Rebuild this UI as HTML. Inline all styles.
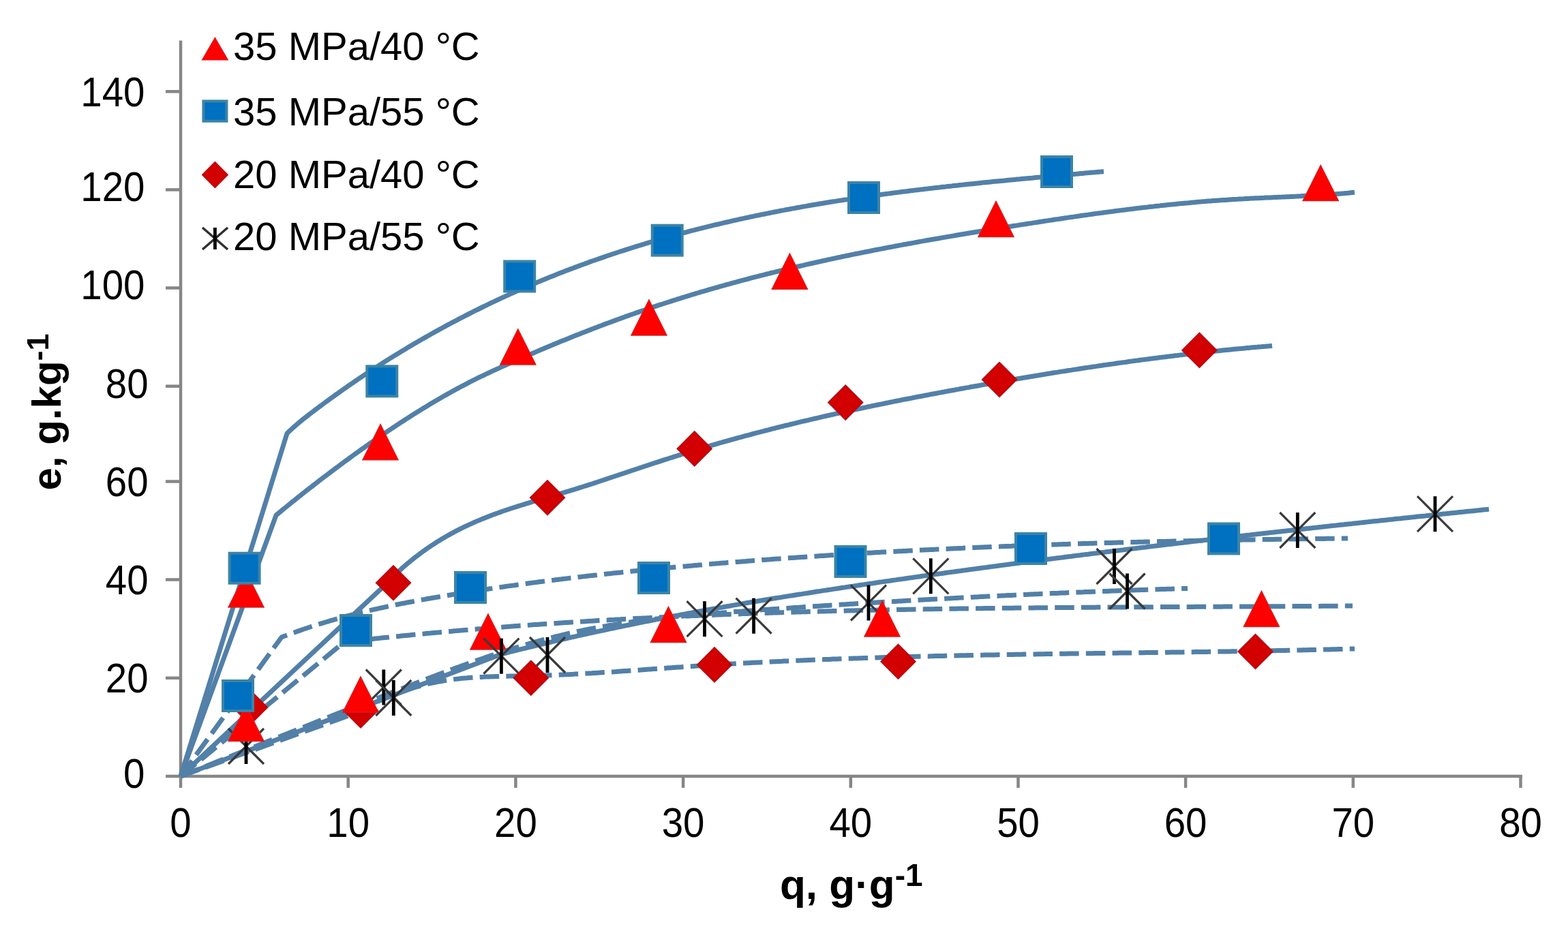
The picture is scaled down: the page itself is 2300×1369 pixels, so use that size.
<!DOCTYPE html>
<html><head><meta charset="utf-8"><title>chart</title>
<style>html,body{margin:0;padding:0;background:#fff;overflow:hidden}svg{display:block}</style>
</head><body>
<svg width="2300" height="1369" viewBox="0 0 2300 1369"><rect x="0" y="0" width="2300" height="1369" fill="#fff"/>
<g stroke="#868686" stroke-width="4.5" fill="none">
<line x1="265" y1="59.5" x2="265" y2="1141"/>
<line x1="263" y1="1139" x2="2233" y2="1139"/>
<line x1="243" y1="1139.0" x2="265" y2="1139.0"/>
<line x1="243" y1="994.8" x2="265" y2="994.8"/>
<line x1="243" y1="850.5" x2="265" y2="850.5"/>
<line x1="243" y1="706.5" x2="265" y2="706.5"/>
<line x1="243" y1="566.7" x2="265" y2="566.7"/>
<line x1="243" y1="422.5" x2="265" y2="422.5"/>
<line x1="243" y1="278.4" x2="265" y2="278.4"/>
<line x1="243" y1="134.3" x2="265" y2="134.3"/>
<line x1="265.0" y1="1139" x2="265.0" y2="1156"/>
<line x1="510.7" y1="1139" x2="510.7" y2="1156"/>
<line x1="756.4" y1="1139" x2="756.4" y2="1156"/>
<line x1="1002.1" y1="1139" x2="1002.1" y2="1156"/>
<line x1="1247.8" y1="1139" x2="1247.8" y2="1156"/>
<line x1="1493.5" y1="1139" x2="1493.5" y2="1156"/>
<line x1="1739.1" y1="1139" x2="1739.1" y2="1156"/>
<line x1="1984.8" y1="1139" x2="1984.8" y2="1156"/>
<line x1="2230.5" y1="1139" x2="2230.5" y2="1156"/>
</g>
<g font-family="'Liberation Sans', Arial, sans-serif" font-size="62" fill="#000" text-anchor="end">
<text transform="translate(212.5,1155.7) scale(0.91,1)">0</text>
<text transform="translate(217.5,1016.2) scale(0.91,1)">20</text>
<text transform="translate(217.5,871.9) scale(0.91,1)">40</text>
<text transform="translate(217.5,728.0) scale(0.91,1)">60</text>
<text transform="translate(217.5,583.6) scale(0.91,1)">80</text>
<text transform="translate(212.5,439.2) scale(0.91,1)">100</text>
<text transform="translate(212.5,295.0) scale(0.91,1)">120</text>
<text transform="translate(212.5,155.7) scale(0.91,1)">140</text>
</g>
<g font-family="'Liberation Sans', Arial, sans-serif" font-size="62" fill="#000" text-anchor="middle">
<text transform="translate(265.0,1227.8) scale(0.91,1)">0</text>
<text transform="translate(510.7,1227.8) scale(0.91,1)">10</text>
<text transform="translate(756.4,1227.8) scale(0.91,1)">20</text>
<text transform="translate(1002.1,1227.8) scale(0.91,1)">30</text>
<text transform="translate(1247.8,1227.8) scale(0.91,1)">40</text>
<text transform="translate(1493.5,1227.8) scale(0.91,1)">50</text>
<text transform="translate(1739.1,1227.8) scale(0.91,1)">60</text>
<text transform="translate(1984.8,1227.8) scale(0.91,1)">70</text>
<text transform="translate(2230.5,1227.8) scale(0.91,1)">80</text>
</g>
<path d="M265.0,1139.0 L421.0,636.0 L424.0,633.1 L427.0,630.3 L430.0,627.5 L433.0,624.9 L436.0,622.3 L439.0,619.7 L442.0,617.3 L445.0,614.8 L448.0,612.4 L451.0,610.1 L454.0,607.8 L457.0,605.5 L460.0,603.2 L463.0,600.9 L466.0,598.7 L469.0,596.4 L472.0,594.2 L475.0,592.0 L478.0,589.8 L481.0,587.6 L484.0,585.4 L487.0,583.2 L490.0,581.1 L493.0,578.9 L496.0,576.8 L499.0,574.6 L502.0,572.5 L505.0,570.4 L508.0,568.3 L511.0,566.2 L514.0,564.1 L517.0,562.1 L520.0,560.0 L523.0,558.0 L526.0,555.9 L529.0,553.9 L532.0,551.9 L535.0,549.9 L538.0,547.9 L541.0,545.9 L544.0,543.9 L547.0,542.0 L550.0,540.0 L553.0,538.1 L556.0,536.2 L559.0,534.2 L562.0,532.3 L565.0,530.4 L568.0,528.5 L571.0,526.6 L574.0,524.8 L577.0,522.9 L580.0,521.0 L583.0,519.2 L586.0,517.4 L589.0,515.5 L592.0,513.7 L595.0,511.9 L598.0,510.1 L601.0,508.3 L604.0,506.6 L607.0,504.8 L610.0,503.0 L613.0,501.3 L616.0,499.5 L619.0,497.8 L622.0,496.1 L625.0,494.4 L628.0,492.7 L631.0,491.0 L634.0,489.3 L637.0,487.6 L640.0,485.9 L643.0,484.3 L646.0,482.6 L649.0,481.0 L652.0,479.4 L655.0,477.7 L658.0,476.1 L661.0,474.5 L664.0,472.9 L667.0,471.3 L670.0,469.8 L673.0,468.2 L676.0,466.6 L679.0,465.1 L682.0,463.5 L685.0,462.0 L688.0,460.5 L691.0,459.0 L694.0,457.4 L697.0,455.9 L700.0,454.5 L703.0,453.0 L706.0,451.5 L709.0,450.0 L712.0,448.6 L715.0,447.1 L718.0,445.7 L721.0,444.2 L724.0,442.8 L727.0,441.4 L730.0,440.0 L733.0,438.6 L736.0,437.2 L739.0,435.8 L742.0,434.4 L745.0,433.1 L748.0,431.7 L751.0,430.3 L754.0,429.0 L757.0,427.6 L760.0,426.3 L763.0,425.0 L766.0,423.7 L769.0,422.4 L772.0,421.1 L775.0,419.8 L778.0,418.5 L781.0,417.2 L784.0,416.0 L787.0,414.7 L790.0,413.4 L793.0,412.2 L796.0,410.9 L799.0,409.7 L802.0,408.5 L805.0,407.3 L808.0,406.1 L811.0,404.9 L814.0,403.7 L817.0,402.5 L820.0,401.3 L823.0,400.1 L826.0,399.0 L829.0,397.8 L832.0,396.6 L835.0,395.5 L838.0,394.4 L841.0,393.2 L844.0,392.1 L847.0,391.0 L850.0,389.9 L853.0,388.8 L856.0,387.7 L859.0,386.6 L862.0,385.5 L865.0,384.4 L868.0,383.3 L871.0,382.3 L874.0,381.2 L877.0,380.2 L880.0,379.1 L883.0,378.1 L886.0,377.1 L889.0,376.0 L892.0,375.0 L895.0,374.0 L898.0,373.0 L901.0,372.0 L904.0,371.0 L907.0,370.0 L910.0,369.0 L913.0,368.1 L916.0,367.1 L919.0,366.1 L922.0,365.2 L925.0,364.2 L928.0,363.3 L931.0,362.3 L934.0,361.4 L937.0,360.5 L940.0,359.6 L943.0,358.7 L946.0,357.7 L949.0,356.8 L952.0,355.9 L955.0,355.1 L958.0,354.2 L961.0,353.3 L964.0,352.4 L967.0,351.6 L970.0,350.7 L973.0,349.8 L976.0,349.0 L979.0,348.1 L982.0,347.3 L985.0,346.5 L988.0,345.6 L991.0,344.8 L994.0,344.0 L997.0,343.2 L1000.0,342.4 L1003.0,341.6 L1006.0,340.8 L1009.0,340.0 L1012.0,339.2 L1015.0,338.4 L1018.0,337.7 L1021.0,336.9 L1024.0,336.1 L1027.0,335.4 L1030.0,334.6 L1033.0,333.9 L1036.0,333.1 L1039.0,332.4 L1042.0,331.7 L1045.0,330.9 L1048.0,330.2 L1051.0,329.5 L1054.0,328.8 L1057.0,328.1 L1060.0,327.4 L1063.0,326.7 L1066.0,326.0 L1069.0,325.3 L1072.0,324.6 L1075.0,323.9 L1078.0,323.2 L1081.0,322.6 L1084.0,321.9 L1087.0,321.2 L1090.0,320.6 L1093.0,319.9 L1096.0,319.3 L1099.0,318.6 L1102.0,318.0 L1105.0,317.4 L1108.0,316.7 L1111.0,316.1 L1114.0,315.5 L1117.0,314.9 L1120.0,314.3 L1123.0,313.7 L1126.0,313.1 L1129.0,312.5 L1132.0,311.9 L1135.0,311.3 L1138.0,310.7 L1141.0,310.1 L1144.0,309.5 L1147.0,308.9 L1150.0,308.4 L1153.0,307.8 L1156.0,307.3 L1159.0,306.7 L1162.0,306.1 L1165.0,305.6 L1168.0,305.0 L1171.0,304.5 L1174.0,304.0 L1177.0,303.4 L1180.0,302.9 L1183.0,302.4 L1186.0,301.8 L1189.0,301.3 L1192.0,300.8 L1195.0,300.3 L1198.0,299.8 L1201.0,299.3 L1204.0,298.8 L1207.0,298.3 L1210.0,297.8 L1213.0,297.3 L1216.0,296.8 L1219.0,296.3 L1222.0,295.8 L1225.0,295.4 L1228.0,294.9 L1231.0,294.4 L1234.0,294.0 L1237.0,293.5 L1240.0,293.0 L1243.0,292.6 L1246.0,292.1 L1249.0,291.7 L1252.0,291.2 L1255.0,290.8 L1258.0,290.3 L1261.0,289.9 L1264.0,289.5 L1267.0,289.0 L1270.0,288.6 L1273.0,288.2 L1276.0,287.7 L1279.0,287.3 L1282.0,286.9 L1285.0,286.5 L1288.0,286.1 L1291.0,285.7 L1294.0,285.3 L1297.0,284.9 L1300.0,284.5 L1303.0,284.1 L1306.0,283.7 L1309.0,283.3 L1312.0,282.9 L1315.0,282.5 L1318.0,282.1 L1321.0,281.7 L1324.0,281.3 L1327.0,281.0 L1330.0,280.6 L1333.0,280.2 L1336.0,279.8 L1339.0,279.5 L1342.0,279.1 L1345.0,278.7 L1348.0,278.4 L1351.0,278.0 L1354.0,277.7 L1357.0,277.3 L1360.0,277.0 L1363.0,276.6 L1366.0,276.3 L1369.0,275.9 L1372.0,275.6 L1375.0,275.2 L1378.0,274.9 L1381.0,274.5 L1384.0,274.2 L1387.0,273.9 L1390.0,273.5 L1393.0,273.2 L1396.0,272.9 L1399.0,272.5 L1402.0,272.2 L1405.0,271.9 L1408.0,271.6 L1411.0,271.3 L1414.0,270.9 L1417.0,270.6 L1420.0,270.3 L1423.0,270.0 L1426.0,269.7 L1429.0,269.4 L1432.0,269.1 L1435.0,268.7 L1438.0,268.4 L1441.0,268.1 L1444.0,267.8 L1447.0,267.5 L1450.0,267.2 L1453.0,266.9 L1456.0,266.6 L1459.0,266.3 L1462.0,266.0 L1465.0,265.7 L1468.0,265.4 L1471.0,265.2 L1474.0,264.9 L1477.0,264.6 L1480.0,264.3 L1483.0,264.0 L1486.0,263.7 L1489.0,263.4 L1492.0,263.1 L1495.0,262.9 L1498.0,262.6 L1501.0,262.3 L1504.0,262.0 L1507.0,261.7 L1510.0,261.4 L1513.0,261.2 L1516.0,260.9 L1519.0,260.6 L1522.0,260.3 L1525.0,260.1 L1528.0,259.8 L1531.0,259.5 L1534.0,259.2 L1537.0,259.0 L1540.0,258.7 L1543.0,258.4 L1546.0,258.1 L1549.0,257.9 L1552.0,257.6 L1555.0,257.3 L1558.0,257.1 L1561.0,256.8 L1564.0,256.5 L1567.0,256.2 L1570.0,256.0 L1573.0,255.7 L1576.0,255.4 L1579.0,255.2 L1582.0,254.9 L1585.0,254.6 L1588.0,254.4 L1591.0,254.1 L1594.0,253.8 L1597.0,253.6 L1600.0,253.3 L1603.0,253.0 L1606.0,252.8 L1609.0,252.5 L1612.0,252.2 L1615.0,252.0 L1618.0,251.7 L1619.0,251.6" fill="none" stroke="#5280a8" stroke-width="7" stroke-linejoin="round"/>
<path d="M265.0,1139.0 L405.0,756.0 L408.0,753.5 L411.0,751.0 L414.0,748.5 L417.0,746.1 L420.0,743.6 L423.0,741.2 L426.0,738.7 L429.0,736.3 L432.0,733.9 L435.0,731.5 L438.0,729.1 L441.0,726.7 L444.0,724.3 L447.0,722.0 L450.0,719.6 L453.0,717.3 L456.0,714.9 L459.0,712.6 L462.0,710.3 L465.0,708.0 L468.0,705.6 L471.0,703.3 L474.0,701.0 L477.0,698.8 L480.0,696.5 L483.0,694.2 L486.0,691.9 L489.0,689.7 L492.0,687.4 L495.0,685.2 L498.0,683.0 L501.0,680.7 L504.0,678.5 L507.0,676.3 L510.0,674.1 L513.0,671.9 L516.0,669.7 L519.0,667.5 L522.0,665.4 L525.0,663.2 L528.0,661.1 L531.0,658.9 L534.0,656.8 L537.0,654.7 L540.0,652.6 L543.0,650.4 L546.0,648.3 L549.0,646.3 L552.0,644.2 L555.0,642.1 L558.0,640.0 L561.0,638.0 L564.0,635.9 L567.0,633.9 L570.0,631.9 L573.0,629.9 L576.0,627.9 L579.0,625.9 L582.0,623.9 L585.0,621.9 L588.0,619.9 L591.0,618.0 L594.0,616.0 L597.0,614.1 L600.0,612.2 L603.0,610.3 L606.0,608.4 L609.0,606.5 L612.0,604.6 L615.0,602.7 L618.0,600.9 L621.0,599.0 L624.0,597.2 L627.0,595.4 L630.0,593.6 L633.0,591.8 L636.0,590.0 L639.0,588.2 L642.0,586.5 L645.0,584.7 L648.0,583.0 L651.0,581.3 L654.0,579.6 L657.0,577.9 L660.0,576.2 L663.0,574.5 L666.0,572.9 L669.0,571.2 L672.0,569.6 L675.0,568.0 L678.0,566.4 L681.0,564.8 L684.0,563.3 L687.0,561.7 L690.0,560.2 L693.0,558.7 L696.0,557.2 L699.0,555.7 L702.0,554.2 L705.0,552.7 L708.0,551.3 L711.0,549.8 L714.0,548.4 L717.0,547.0 L720.0,545.6 L723.0,544.2 L726.0,542.8 L729.0,541.4 L732.0,540.1 L735.0,538.7 L738.0,537.3 L741.0,536.0 L744.0,534.7 L747.0,533.3 L750.0,532.0 L753.0,530.7 L756.0,529.3 L759.0,528.0 L762.0,526.7 L765.0,525.4 L768.0,524.1 L771.0,522.8 L774.0,521.5 L777.0,520.2 L780.0,518.9 L783.0,517.7 L786.0,516.4 L789.0,515.1 L792.0,513.8 L795.0,512.6 L798.0,511.3 L801.0,510.0 L804.0,508.8 L807.0,507.5 L810.0,506.3 L813.0,505.0 L816.0,503.8 L819.0,502.6 L822.0,501.3 L825.0,500.1 L828.0,498.9 L831.0,497.7 L834.0,496.5 L837.0,495.2 L840.0,494.0 L843.0,492.8 L846.0,491.6 L849.0,490.5 L852.0,489.3 L855.0,488.1 L858.0,486.9 L861.0,485.7 L864.0,484.6 L867.0,483.4 L870.0,482.3 L873.0,481.1 L876.0,480.0 L879.0,478.8 L882.0,477.7 L885.0,476.5 L888.0,475.4 L891.0,474.3 L894.0,473.2 L897.0,472.1 L900.0,471.0 L903.0,469.9 L906.0,468.8 L909.0,467.7 L912.0,466.6 L915.0,465.5 L918.0,464.4 L921.0,463.4 L924.0,462.3 L927.0,461.2 L930.0,460.2 L933.0,459.1 L936.0,458.1 L939.0,457.0 L942.0,456.0 L945.0,455.0 L948.0,454.0 L951.0,452.9 L954.0,451.9 L957.0,450.9 L960.0,449.9 L963.0,448.9 L966.0,447.9 L969.0,446.9 L972.0,446.0 L975.0,445.0 L978.0,444.0 L981.0,443.1 L984.0,442.1 L987.0,441.1 L990.0,440.2 L993.0,439.2 L996.0,438.3 L999.0,437.4 L1002.0,436.4 L1005.0,435.5 L1008.0,434.6 L1011.0,433.7 L1014.0,432.7 L1017.0,431.8 L1020.0,430.9 L1023.0,430.0 L1026.0,429.1 L1029.0,428.2 L1032.0,427.4 L1035.0,426.5 L1038.0,425.6 L1041.0,424.7 L1044.0,423.9 L1047.0,423.0 L1050.0,422.1 L1053.0,421.3 L1056.0,420.4 L1059.0,419.6 L1062.0,418.8 L1065.0,417.9 L1068.0,417.1 L1071.0,416.3 L1074.0,415.4 L1077.0,414.6 L1080.0,413.8 L1083.0,413.0 L1086.0,412.2 L1089.0,411.4 L1092.0,410.6 L1095.0,409.8 L1098.0,409.0 L1101.0,408.2 L1104.0,407.4 L1107.0,406.6 L1110.0,405.9 L1113.0,405.1 L1116.0,404.3 L1119.0,403.6 L1122.0,402.8 L1125.0,402.0 L1128.0,401.3 L1131.0,400.5 L1134.0,399.8 L1137.0,399.1 L1140.0,398.3 L1143.0,397.6 L1146.0,396.9 L1149.0,396.1 L1152.0,395.4 L1155.0,394.7 L1158.0,394.0 L1161.0,393.3 L1164.0,392.6 L1167.0,391.9 L1170.0,391.2 L1173.0,390.5 L1176.0,389.8 L1179.0,389.1 L1182.0,388.4 L1185.0,387.7 L1188.0,387.0 L1191.0,386.3 L1194.0,385.7 L1197.0,385.0 L1200.0,384.3 L1203.0,383.7 L1206.0,383.0 L1209.0,382.3 L1212.0,381.7 L1215.0,381.0 L1218.0,380.4 L1221.0,379.7 L1224.0,379.1 L1227.0,378.4 L1230.0,377.8 L1233.0,377.2 L1236.0,376.5 L1239.0,375.9 L1242.0,375.3 L1245.0,374.7 L1248.0,374.0 L1251.0,373.4 L1254.0,372.8 L1257.0,372.2 L1260.0,371.6 L1263.0,371.0 L1266.0,370.4 L1269.0,369.8 L1272.0,369.2 L1275.0,368.6 L1278.0,368.0 L1281.0,367.4 L1284.0,366.8 L1287.0,366.2 L1290.0,365.6 L1293.0,365.1 L1296.0,364.5 L1299.0,363.9 L1302.0,363.3 L1305.0,362.7 L1308.0,362.2 L1311.0,361.6 L1314.0,361.0 L1317.0,360.5 L1320.0,359.9 L1323.0,359.4 L1326.0,358.8 L1329.0,358.3 L1332.0,357.7 L1335.0,357.2 L1338.0,356.6 L1341.0,356.1 L1344.0,355.5 L1347.0,355.0 L1350.0,354.4 L1353.0,353.9 L1356.0,353.4 L1359.0,352.8 L1362.0,352.3 L1365.0,351.8 L1368.0,351.2 L1371.0,350.7 L1374.0,350.2 L1377.0,349.7 L1380.0,349.1 L1383.0,348.6 L1386.0,348.1 L1389.0,347.6 L1392.0,347.1 L1395.0,346.6 L1398.0,346.1 L1401.0,345.5 L1404.0,345.0 L1407.0,344.5 L1410.0,344.0 L1413.0,343.5 L1416.0,343.0 L1419.0,342.5 L1422.0,342.0 L1425.0,341.5 L1428.0,341.0 L1431.0,340.5 L1434.0,340.0 L1437.0,339.5 L1440.0,339.0 L1443.0,338.6 L1446.0,338.1 L1449.0,337.6 L1452.0,337.1 L1455.0,336.6 L1458.0,336.1 L1461.0,335.6 L1464.0,335.2 L1467.0,334.7 L1470.0,334.2 L1473.0,333.7 L1476.0,333.2 L1479.0,332.8 L1482.0,332.3 L1485.0,331.8 L1488.0,331.3 L1491.0,330.9 L1494.0,330.4 L1497.0,329.9 L1500.0,329.4 L1503.0,329.0 L1506.0,328.5 L1509.0,328.0 L1512.0,327.6 L1515.0,327.1 L1518.0,326.6 L1521.0,326.2 L1524.0,325.7 L1527.0,325.2 L1530.0,324.8 L1533.0,324.3 L1536.0,323.9 L1539.0,323.4 L1542.0,323.0 L1545.0,322.5 L1548.0,322.0 L1551.0,321.6 L1554.0,321.2 L1557.0,320.7 L1560.0,320.3 L1563.0,319.8 L1566.0,319.4 L1569.0,318.9 L1572.0,318.5 L1575.0,318.1 L1578.0,317.6 L1581.0,317.2 L1584.0,316.8 L1587.0,316.3 L1590.0,315.9 L1593.0,315.5 L1596.0,315.1 L1599.0,314.6 L1602.0,314.2 L1605.0,313.8 L1608.0,313.4 L1611.0,313.0 L1614.0,312.6 L1617.0,312.2 L1620.0,311.8 L1623.0,311.4 L1626.0,311.0 L1629.0,310.6 L1632.0,310.2 L1635.0,309.8 L1638.0,309.4 L1641.0,309.0 L1644.0,308.6 L1647.0,308.2 L1650.0,307.9 L1653.0,307.5 L1656.0,307.1 L1659.0,306.7 L1662.0,306.4 L1665.0,306.0 L1668.0,305.6 L1671.0,305.3 L1674.0,304.9 L1677.0,304.6 L1680.0,304.2 L1683.0,303.9 L1686.0,303.5 L1689.0,303.2 L1692.0,302.9 L1695.0,302.5 L1698.0,302.2 L1701.0,301.9 L1704.0,301.5 L1707.0,301.2 L1710.0,300.9 L1713.0,300.6 L1716.0,300.3 L1719.0,300.0 L1722.0,299.7 L1725.0,299.4 L1728.0,299.1 L1731.0,298.8 L1734.0,298.5 L1737.0,298.2 L1740.0,297.9 L1743.0,297.7 L1746.0,297.4 L1749.0,297.1 L1752.0,296.9 L1755.0,296.6 L1758.0,296.3 L1761.0,296.1 L1764.0,295.8 L1767.0,295.6 L1770.0,295.3 L1773.0,295.1 L1776.0,294.9 L1779.0,294.6 L1782.0,294.4 L1785.0,294.2 L1788.0,294.0 L1791.0,293.8 L1794.0,293.6 L1797.0,293.4 L1800.0,293.2 L1803.0,293.0 L1806.0,292.8 L1809.0,292.6 L1812.0,292.4 L1815.0,292.3 L1818.0,292.1 L1821.0,291.9 L1824.0,291.8 L1827.0,291.6 L1830.0,291.4 L1833.0,291.3 L1836.0,291.1 L1839.0,291.0 L1842.0,290.8 L1845.0,290.7 L1848.0,290.6 L1851.0,290.4 L1854.0,290.3 L1857.0,290.1 L1860.0,290.0 L1863.0,289.9 L1866.0,289.7 L1869.0,289.6 L1872.0,289.5 L1875.0,289.3 L1878.0,289.2 L1881.0,289.1 L1884.0,288.9 L1887.0,288.8 L1890.0,288.7 L1893.0,288.5 L1896.0,288.4 L1899.0,288.2 L1902.0,288.1 L1905.0,287.9 L1908.0,287.8 L1911.0,287.6 L1914.0,287.5 L1917.0,287.3 L1920.0,287.2 L1923.0,287.0 L1926.0,286.8 L1929.0,286.7 L1932.0,286.5 L1935.0,286.3 L1938.0,286.1 L1941.0,285.9 L1944.0,285.7 L1947.0,285.5 L1950.0,285.3 L1953.0,285.1 L1956.0,284.9 L1959.0,284.7 L1962.0,284.4 L1965.0,284.2 L1968.0,283.9 L1971.0,283.7 L1974.0,283.4 L1977.0,283.2 L1980.0,282.9 L1983.0,282.6 L1986.0,282.3 L1987.0,282.2" fill="none" stroke="#5280a8" stroke-width="7" stroke-linejoin="round"/>
<path d="M265.0,1139.0 L560.0,863.0 L563.0,859.8 L566.0,856.7 L569.0,853.6 L572.0,850.6 L575.0,847.6 L578.0,844.7 L581.0,841.9 L584.0,839.1 L587.0,836.4 L590.0,833.7 L593.0,831.0 L596.0,828.4 L599.0,825.9 L602.0,823.4 L605.0,821.0 L608.0,818.6 L611.0,816.3 L614.0,814.0 L617.0,811.7 L620.0,809.5 L623.0,807.4 L626.0,805.2 L629.0,803.2 L632.0,801.1 L635.0,799.1 L638.0,797.2 L641.0,795.3 L644.0,793.4 L647.0,791.6 L650.0,789.8 L653.0,788.0 L656.0,786.3 L659.0,784.6 L662.0,782.9 L665.0,781.3 L668.0,779.7 L671.0,778.2 L674.0,776.6 L677.0,775.1 L680.0,773.7 L683.0,772.2 L686.0,770.8 L689.0,769.4 L692.0,768.1 L695.0,766.7 L698.0,765.4 L701.0,764.1 L704.0,762.9 L707.0,761.6 L710.0,760.4 L713.0,759.2 L716.0,758.1 L719.0,756.9 L722.0,755.8 L725.0,754.6 L728.0,753.5 L731.0,752.5 L734.0,751.4 L737.0,750.3 L740.0,749.3 L743.0,748.3 L746.0,747.3 L749.0,746.3 L752.0,745.3 L755.0,744.3 L758.0,743.4 L761.0,742.4 L764.0,741.5 L767.0,740.6 L770.0,739.6 L773.0,738.7 L776.0,737.8 L779.0,736.9 L782.0,736.0 L785.0,735.1 L788.0,734.3 L791.0,733.4 L794.0,732.5 L797.0,731.6 L800.0,730.7 L803.0,729.9 L806.0,729.0 L809.0,728.1 L812.0,727.2 L815.0,726.4 L818.0,725.5 L821.0,724.6 L824.0,723.7 L827.0,722.8 L830.0,721.9 L833.0,721.0 L836.0,720.1 L839.0,719.2 L842.0,718.3 L845.0,717.3 L848.0,716.4 L851.0,715.4 L854.0,714.5 L857.0,713.5 L860.0,712.6 L863.0,711.6 L866.0,710.7 L869.0,709.7 L872.0,708.7 L875.0,707.8 L878.0,706.8 L881.0,705.8 L884.0,704.8 L887.0,703.8 L890.0,702.8 L893.0,701.8 L896.0,700.8 L899.0,699.8 L902.0,698.8 L905.0,697.8 L908.0,696.8 L911.0,695.8 L914.0,694.8 L917.0,693.8 L920.0,692.8 L923.0,691.8 L926.0,690.8 L929.0,689.8 L932.0,688.8 L935.0,687.8 L938.0,686.8 L941.0,685.8 L944.0,684.8 L947.0,683.8 L950.0,682.8 L953.0,681.8 L956.0,680.8 L959.0,679.8 L962.0,678.8 L965.0,677.9 L968.0,676.9 L971.0,675.9 L974.0,674.9 L977.0,673.9 L980.0,673.0 L983.0,672.0 L986.0,671.1 L989.0,670.1 L992.0,669.2 L995.0,668.2 L998.0,667.3 L1001.0,666.3 L1004.0,665.4 L1007.0,664.5 L1010.0,663.6 L1013.0,662.6 L1016.0,661.7 L1019.0,660.8 L1022.0,659.9 L1025.0,659.0 L1028.0,658.1 L1031.0,657.2 L1034.0,656.3 L1037.0,655.5 L1040.0,654.6 L1043.0,653.7 L1046.0,652.8 L1049.0,652.0 L1052.0,651.1 L1055.0,650.2 L1058.0,649.4 L1061.0,648.5 L1064.0,647.7 L1067.0,646.8 L1070.0,646.0 L1073.0,645.2 L1076.0,644.3 L1079.0,643.5 L1082.0,642.7 L1085.0,641.9 L1088.0,641.1 L1091.0,640.2 L1094.0,639.4 L1097.0,638.6 L1100.0,637.8 L1103.0,637.0 L1106.0,636.2 L1109.0,635.4 L1112.0,634.6 L1115.0,633.9 L1118.0,633.1 L1121.0,632.3 L1124.0,631.5 L1127.0,630.8 L1130.0,630.0 L1133.0,629.2 L1136.0,628.5 L1139.0,627.7 L1142.0,627.0 L1145.0,626.2 L1148.0,625.5 L1151.0,624.7 L1154.0,624.0 L1157.0,623.3 L1160.0,622.5 L1163.0,621.8 L1166.0,621.1 L1169.0,620.3 L1172.0,619.6 L1175.0,618.9 L1178.0,618.2 L1181.0,617.5 L1184.0,616.8 L1187.0,616.1 L1190.0,615.4 L1193.0,614.7 L1196.0,614.0 L1199.0,613.3 L1202.0,612.6 L1205.0,611.9 L1208.0,611.2 L1211.0,610.5 L1214.0,609.8 L1217.0,609.2 L1220.0,608.5 L1223.0,607.8 L1226.0,607.1 L1229.0,606.5 L1232.0,605.8 L1235.0,605.2 L1238.0,604.5 L1241.0,603.8 L1244.0,603.2 L1247.0,602.5 L1250.0,601.9 L1253.0,601.2 L1256.0,600.6 L1259.0,600.0 L1262.0,599.3 L1265.0,598.7 L1268.0,598.1 L1271.0,597.4 L1274.0,596.8 L1277.0,596.2 L1280.0,595.5 L1283.0,594.9 L1286.0,594.3 L1289.0,593.7 L1292.0,593.1 L1295.0,592.5 L1298.0,591.8 L1301.0,591.2 L1304.0,590.6 L1307.0,590.0 L1310.0,589.4 L1313.0,588.8 L1316.0,588.2 L1319.0,587.6 L1322.0,587.0 L1325.0,586.4 L1328.0,585.8 L1331.0,585.3 L1334.0,584.7 L1337.0,584.1 L1340.0,583.5 L1343.0,582.9 L1346.0,582.3 L1349.0,581.8 L1352.0,581.2 L1355.0,580.6 L1358.0,580.0 L1361.0,579.5 L1364.0,578.9 L1367.0,578.3 L1370.0,577.8 L1373.0,577.2 L1376.0,576.6 L1379.0,576.1 L1382.0,575.5 L1385.0,575.0 L1388.0,574.4 L1391.0,573.8 L1394.0,573.3 L1397.0,572.7 L1400.0,572.2 L1403.0,571.6 L1406.0,571.1 L1409.0,570.5 L1412.0,570.0 L1415.0,569.4 L1418.0,568.9 L1421.0,568.4 L1424.0,567.8 L1427.0,567.3 L1430.0,566.7 L1433.0,566.2 L1436.0,565.7 L1439.0,565.1 L1442.0,564.6 L1445.0,564.1 L1448.0,563.5 L1451.0,563.0 L1454.0,562.5 L1457.0,561.9 L1460.0,561.4 L1463.0,560.9 L1466.0,560.4 L1469.0,559.9 L1472.0,559.3 L1475.0,558.8 L1478.0,558.3 L1481.0,557.8 L1484.0,557.3 L1487.0,556.8 L1490.0,556.2 L1493.0,555.7 L1496.0,555.2 L1499.0,554.7 L1502.0,554.2 L1505.0,553.7 L1508.0,553.2 L1511.0,552.7 L1514.0,552.2 L1517.0,551.7 L1520.0,551.2 L1523.0,550.7 L1526.0,550.2 L1529.0,549.7 L1532.0,549.3 L1535.0,548.8 L1538.0,548.3 L1541.0,547.8 L1544.0,547.3 L1547.0,546.8 L1550.0,546.4 L1553.0,545.9 L1556.0,545.4 L1559.0,544.9 L1562.0,544.5 L1565.0,544.0 L1568.0,543.5 L1571.0,543.1 L1574.0,542.6 L1577.0,542.1 L1580.0,541.7 L1583.0,541.2 L1586.0,540.7 L1589.0,540.3 L1592.0,539.8 L1595.0,539.4 L1598.0,538.9 L1601.0,538.5 L1604.0,538.0 L1607.0,537.6 L1610.0,537.1 L1613.0,536.7 L1616.0,536.3 L1619.0,535.8 L1622.0,535.4 L1625.0,535.0 L1628.0,534.5 L1631.0,534.1 L1634.0,533.7 L1637.0,533.2 L1640.0,532.8 L1643.0,532.4 L1646.0,532.0 L1649.0,531.6 L1652.0,531.2 L1655.0,530.7 L1658.0,530.3 L1661.0,529.9 L1664.0,529.5 L1667.0,529.1 L1670.0,528.7 L1673.0,528.3 L1676.0,527.9 L1679.0,527.5 L1682.0,527.1 L1685.0,526.7 L1688.0,526.3 L1691.0,525.9 L1694.0,525.6 L1697.0,525.2 L1700.0,524.8 L1703.0,524.4 L1706.0,524.0 L1709.0,523.7 L1712.0,523.3 L1715.0,522.9 L1718.0,522.6 L1721.0,522.2 L1724.0,521.8 L1727.0,521.5 L1730.0,521.1 L1733.0,520.7 L1736.0,520.4 L1739.0,520.0 L1742.0,519.7 L1745.0,519.3 L1748.0,519.0 L1751.0,518.7 L1754.0,518.3 L1757.0,518.0 L1760.0,517.6 L1763.0,517.3 L1766.0,517.0 L1769.0,516.7 L1772.0,516.3 L1775.0,516.0 L1778.0,515.7 L1781.0,515.4 L1784.0,515.1 L1787.0,514.7 L1790.0,514.4 L1793.0,514.1 L1796.0,513.8 L1799.0,513.5 L1802.0,513.2 L1805.0,512.9 L1808.0,512.6 L1811.0,512.3 L1814.0,512.0 L1817.0,511.7 L1820.0,511.5 L1823.0,511.2 L1826.0,510.9 L1829.0,510.6 L1832.0,510.4 L1835.0,510.1 L1838.0,509.8 L1841.0,509.5 L1844.0,509.3 L1847.0,509.0 L1850.0,508.8 L1853.0,508.5 L1856.0,508.3 L1859.0,508.0 L1862.0,507.8 L1865.0,507.5 L1866.0,507.4" fill="none" stroke="#5280a8" stroke-width="7" stroke-linejoin="round"/>
<path d="M265.0,1139.0 L735.0,960.0 L738.0,959.2 L741.0,958.5 L744.0,957.7 L747.0,956.9 L750.0,956.2 L753.0,955.4 L756.0,954.7 L759.0,953.9 L762.0,953.2 L765.0,952.4 L768.0,951.7 L771.0,951.0 L774.0,950.2 L777.0,949.5 L780.0,948.8 L783.0,948.0 L786.0,947.3 L789.0,946.6 L792.0,945.9 L795.0,945.2 L798.0,944.5 L801.0,943.7 L804.0,943.0 L807.0,942.3 L810.0,941.6 L813.0,940.9 L816.0,940.2 L819.0,939.5 L822.0,938.8 L825.0,938.1 L828.0,937.5 L831.0,936.8 L834.0,936.1 L837.0,935.4 L840.0,934.7 L843.0,934.1 L846.0,933.4 L849.0,932.7 L852.0,932.0 L855.0,931.4 L858.0,930.7 L861.0,930.1 L864.0,929.4 L867.0,928.7 L870.0,928.1 L873.0,927.4 L876.0,926.8 L879.0,926.1 L882.0,925.5 L885.0,924.8 L888.0,924.2 L891.0,923.6 L894.0,922.9 L897.0,922.3 L900.0,921.7 L903.0,921.0 L906.0,920.4 L909.0,919.8 L912.0,919.2 L915.0,918.5 L918.0,917.9 L921.0,917.3 L924.0,916.7 L927.0,916.1 L930.0,915.5 L933.0,914.9 L936.0,914.2 L939.0,913.6 L942.0,913.0 L945.0,912.4 L948.0,911.8 L951.0,911.2 L954.0,910.7 L957.0,910.1 L960.0,909.5 L963.0,908.9 L966.0,908.3 L969.0,907.7 L972.0,907.1 L975.0,906.6 L978.0,906.0 L981.0,905.4 L984.0,904.8 L987.0,904.3 L990.0,903.7 L993.0,903.1 L996.0,902.6 L999.0,902.0 L1002.0,901.4 L1005.0,900.9 L1008.0,900.3 L1011.0,899.7 L1014.0,899.2 L1017.0,898.6 L1020.0,898.1 L1023.0,897.5 L1026.0,897.0 L1029.0,896.4 L1032.0,895.9 L1035.0,895.4 L1038.0,894.8 L1041.0,894.3 L1044.0,893.7 L1047.0,893.2 L1050.0,892.7 L1053.0,892.1 L1056.0,891.6 L1059.0,891.1 L1062.0,890.5 L1065.0,890.0 L1068.0,889.5 L1071.0,889.0 L1074.0,888.4 L1077.0,887.9 L1080.0,887.4 L1083.0,886.9 L1086.0,886.4 L1089.0,885.9 L1092.0,885.3 L1095.0,884.8 L1098.0,884.3 L1101.0,883.8 L1104.0,883.3 L1107.0,882.8 L1110.0,882.3 L1113.0,881.8 L1116.0,881.3 L1119.0,880.8 L1122.0,880.3 L1125.0,879.8 L1128.0,879.3 L1131.0,878.8 L1134.0,878.3 L1137.0,877.8 L1140.0,877.3 L1143.0,876.9 L1146.0,876.4 L1149.0,875.9 L1152.0,875.4 L1155.0,874.9 L1158.0,874.4 L1161.0,874.0 L1164.0,873.5 L1167.0,873.0 L1170.0,872.5 L1173.0,872.0 L1176.0,871.6 L1179.0,871.1 L1182.0,870.6 L1185.0,870.2 L1188.0,869.7 L1191.0,869.2 L1194.0,868.8 L1197.0,868.3 L1200.0,867.8 L1203.0,867.4 L1206.0,866.9 L1209.0,866.4 L1212.0,866.0 L1215.0,865.5 L1218.0,865.1 L1221.0,864.6 L1224.0,864.1 L1227.0,863.7 L1230.0,863.2 L1233.0,862.8 L1236.0,862.3 L1239.0,861.9 L1242.0,861.4 L1245.0,861.0 L1248.0,860.5 L1251.0,860.1 L1254.0,859.6 L1257.0,859.2 L1260.0,858.7 L1263.0,858.3 L1266.0,857.9 L1269.0,857.4 L1272.0,857.0 L1275.0,856.5 L1278.0,856.1 L1281.0,855.7 L1284.0,855.2 L1287.0,854.8 L1290.0,854.3 L1293.0,853.9 L1296.0,853.5 L1299.0,853.0 L1302.0,852.6 L1305.0,852.2 L1308.0,851.7 L1311.0,851.3 L1314.0,850.9 L1317.0,850.4 L1320.0,850.0 L1323.0,849.6 L1326.0,849.2 L1329.0,848.7 L1332.0,848.3 L1335.0,847.9 L1338.0,847.5 L1341.0,847.0 L1344.0,846.6 L1347.0,846.2 L1350.0,845.8 L1353.0,845.3 L1356.0,844.9 L1359.0,844.5 L1362.0,844.1 L1365.0,843.7 L1368.0,843.2 L1371.0,842.8 L1374.0,842.4 L1377.0,842.0 L1380.0,841.6 L1383.0,841.2 L1386.0,840.7 L1389.0,840.3 L1392.0,839.9 L1395.0,839.5 L1398.0,839.1 L1401.0,838.7 L1404.0,838.3 L1407.0,837.9 L1410.0,837.5 L1413.0,837.0 L1416.0,836.6 L1419.0,836.2 L1422.0,835.8 L1425.0,835.4 L1428.0,835.0 L1431.0,834.6 L1434.0,834.2 L1437.0,833.8 L1440.0,833.4 L1443.0,833.0 L1446.0,832.6 L1449.0,832.2 L1452.0,831.8 L1455.0,831.4 L1458.0,831.0 L1461.0,830.6 L1464.0,830.2 L1467.0,829.8 L1470.0,829.4 L1473.0,829.0 L1476.0,828.6 L1479.0,828.2 L1482.0,827.8 L1485.0,827.4 L1488.0,827.0 L1491.0,826.6 L1494.0,826.2 L1497.0,825.8 L1500.0,825.4 L1503.0,825.0 L1506.0,824.7 L1509.0,824.3 L1512.0,823.9 L1515.0,823.5 L1518.0,823.1 L1521.0,822.7 L1524.0,822.3 L1527.0,821.9 L1530.0,821.5 L1533.0,821.2 L1536.0,820.8 L1539.0,820.4 L1542.0,820.0 L1545.0,819.6 L1548.0,819.2 L1551.0,818.8 L1554.0,818.5 L1557.0,818.1 L1560.0,817.7 L1563.0,817.3 L1566.0,816.9 L1569.0,816.6 L1572.0,816.2 L1575.0,815.8 L1578.0,815.4 L1581.0,815.0 L1584.0,814.7 L1587.0,814.3 L1590.0,813.9 L1593.0,813.5 L1596.0,813.2 L1599.0,812.8 L1602.0,812.4 L1605.0,812.0 L1608.0,811.7 L1611.0,811.3 L1614.0,810.9 L1617.0,810.5 L1620.0,810.2 L1623.0,809.8 L1626.0,809.4 L1629.0,809.1 L1632.0,808.7 L1635.0,808.3 L1638.0,808.0 L1641.0,807.6 L1644.0,807.2 L1647.0,806.9 L1650.0,806.5 L1653.0,806.1 L1656.0,805.8 L1659.0,805.4 L1662.0,805.0 L1665.0,804.7 L1668.0,804.3 L1671.0,803.9 L1674.0,803.6 L1677.0,803.2 L1680.0,802.9 L1683.0,802.5 L1686.0,802.1 L1689.0,801.8 L1692.0,801.4 L1695.0,801.0 L1698.0,800.7 L1701.0,800.3 L1704.0,800.0 L1707.0,799.6 L1710.0,799.3 L1713.0,798.9 L1716.0,798.5 L1719.0,798.2 L1722.0,797.8 L1725.0,797.5 L1728.0,797.1 L1731.0,796.8 L1734.0,796.4 L1737.0,796.1 L1740.0,795.7 L1743.0,795.4 L1746.0,795.0 L1749.0,794.6 L1752.0,794.3 L1755.0,793.9 L1758.0,793.6 L1761.0,793.2 L1764.0,792.9 L1767.0,792.5 L1770.0,792.2 L1773.0,791.8 L1776.0,791.5 L1779.0,791.2 L1782.0,790.8 L1785.0,790.5 L1788.0,790.1 L1791.0,789.8 L1794.0,789.4 L1797.0,789.1 L1800.0,788.7 L1803.0,788.4 L1806.0,788.0 L1809.0,787.7 L1812.0,787.4 L1815.0,787.0 L1818.0,786.7 L1821.0,786.3 L1824.0,786.0 L1827.0,785.6 L1830.0,785.3 L1833.0,785.0 L1836.0,784.6 L1839.0,784.3 L1842.0,783.9 L1845.0,783.6 L1848.0,783.3 L1851.0,782.9 L1854.0,782.6 L1857.0,782.2 L1860.0,781.9 L1863.0,781.6 L1866.0,781.2 L1869.0,780.9 L1872.0,780.6 L1875.0,780.2 L1878.0,779.9 L1881.0,779.6 L1884.0,779.2 L1887.0,778.9 L1890.0,778.6 L1893.0,778.2 L1896.0,777.9 L1899.0,777.6 L1902.0,777.2 L1905.0,776.9 L1908.0,776.6 L1911.0,776.2 L1914.0,775.9 L1917.0,775.6 L1920.0,775.2 L1923.0,774.9 L1926.0,774.6 L1929.0,774.2 L1932.0,773.9 L1935.0,773.6 L1938.0,773.3 L1941.0,772.9 L1944.0,772.6 L1947.0,772.3 L1950.0,771.9 L1953.0,771.6 L1956.0,771.3 L1959.0,771.0 L1962.0,770.6 L1965.0,770.3 L1968.0,770.0 L1971.0,769.7 L1974.0,769.3 L1977.0,769.0 L1980.0,768.7 L1983.0,768.4 L1986.0,768.0 L1989.0,767.7 L1992.0,767.4 L1995.0,767.1 L1998.0,766.7 L2001.0,766.4 L2004.0,766.1 L2007.0,765.8 L2010.0,765.4 L2013.0,765.1 L2016.0,764.8 L2019.0,764.5 L2022.0,764.2 L2025.0,763.8 L2028.0,763.5 L2031.0,763.2 L2034.0,762.9 L2037.0,762.6 L2040.0,762.2 L2043.0,761.9 L2046.0,761.6 L2049.0,761.3 L2052.0,761.0 L2055.0,760.7 L2058.0,760.3 L2061.0,760.0 L2064.0,759.7 L2067.0,759.4 L2070.0,759.1 L2073.0,758.8 L2076.0,758.4 L2079.0,758.1 L2082.0,757.8 L2085.0,757.5 L2088.0,757.2 L2091.0,756.9 L2094.0,756.5 L2097.0,756.2 L2100.0,755.9 L2103.0,755.6 L2106.0,755.3 L2109.0,755.0 L2112.0,754.7 L2115.0,754.3 L2118.0,754.0 L2121.0,753.7 L2124.0,753.4 L2127.0,753.1 L2130.0,752.8 L2133.0,752.5 L2136.0,752.2 L2139.0,751.8 L2142.0,751.5 L2145.0,751.2 L2148.0,750.9 L2151.0,750.6 L2154.0,750.3 L2157.0,750.0 L2160.0,749.7 L2163.0,749.4 L2166.0,749.1 L2169.0,748.7 L2172.0,748.4 L2175.0,748.1 L2178.0,747.8 L2181.0,747.5 L2184.0,747.2" fill="none" stroke="#5280a8" stroke-width="7" stroke-linejoin="round"/>
<path d="M265.0,1139.0 L413.0,935.0 L416.0,933.8 L419.0,932.7 L422.0,931.6 L425.0,930.4 L428.0,929.3 L431.0,928.3 L434.0,927.2 L437.0,926.1 L440.0,925.1 L443.0,924.0 L446.0,923.0 L449.0,922.0 L452.0,921.0 L455.0,920.0 L458.0,919.0 L461.0,918.0 L464.0,917.1 L467.0,916.1 L470.0,915.2 L473.0,914.3 L476.0,913.4 L479.0,912.5 L482.0,911.6 L485.0,910.7 L488.0,909.8 L491.0,909.0 L494.0,908.1 L497.0,907.3 L500.0,906.5 L503.0,905.6 L506.0,904.8 L509.0,904.0 L512.0,903.2 L515.0,902.5 L518.0,901.7 L521.0,900.9 L524.0,900.2 L527.0,899.4 L530.0,898.7 L533.0,898.0 L536.0,897.2 L539.0,896.5 L542.0,895.8 L545.0,895.1 L548.0,894.4 L551.0,893.8 L554.0,893.1 L557.0,892.4 L560.0,891.8 L563.0,891.1 L566.0,890.5 L569.0,889.8 L572.0,889.2 L575.0,888.6 L578.0,888.0 L581.0,887.3 L584.0,886.7 L587.0,886.1 L590.0,885.5 L593.0,885.0 L596.0,884.4 L599.0,883.8 L602.0,883.2 L605.0,882.7 L608.0,882.1 L611.0,881.5 L614.0,881.0 L617.0,880.4 L620.0,879.9 L623.0,879.4 L626.0,878.8 L629.0,878.3 L632.0,877.8 L635.0,877.2 L638.0,876.7 L641.0,876.2 L644.0,875.7 L647.0,875.2 L650.0,874.7 L653.0,874.2 L656.0,873.7 L659.0,873.2 L662.0,872.7 L665.0,872.2 L668.0,871.7 L671.0,871.2 L674.0,870.7 L677.0,870.3 L680.0,869.8 L683.0,869.3 L686.0,868.8 L689.0,868.4 L692.0,867.9 L695.0,867.4 L698.0,867.0 L701.0,866.5 L704.0,866.1 L707.0,865.6 L710.0,865.1 L713.0,864.7 L716.0,864.2 L719.0,863.8 L722.0,863.4 L725.0,862.9 L728.0,862.5 L731.0,862.0 L734.0,861.6 L737.0,861.2 L740.0,860.8 L743.0,860.3 L746.0,859.9 L749.0,859.5 L752.0,859.1 L755.0,858.7 L758.0,858.2 L761.0,857.8 L764.0,857.4 L767.0,857.0 L770.0,856.6 L773.0,856.2 L776.0,855.8 L779.0,855.4 L782.0,855.0 L785.0,854.6 L788.0,854.2 L791.0,853.8 L794.0,853.4 L797.0,853.1 L800.0,852.7 L803.0,852.3 L806.0,851.9 L809.0,851.5 L812.0,851.2 L815.0,850.8 L818.0,850.4 L821.0,850.1 L824.0,849.7 L827.0,849.3 L830.0,849.0 L833.0,848.6 L836.0,848.2 L839.0,847.9 L842.0,847.5 L845.0,847.2 L848.0,846.8 L851.0,846.5 L854.0,846.1 L857.0,845.8 L860.0,845.4 L863.0,845.1 L866.0,844.8 L869.0,844.4 L872.0,844.1 L875.0,843.8 L878.0,843.4 L881.0,843.1 L884.0,842.8 L887.0,842.4 L890.0,842.1 L893.0,841.8 L896.0,841.5 L899.0,841.1 L902.0,840.8 L905.0,840.5 L908.0,840.2 L911.0,839.9 L914.0,839.6 L917.0,839.3 L920.0,839.0 L923.0,838.7 L926.0,838.3 L929.0,838.0 L932.0,837.7 L935.0,837.4 L938.0,837.1 L941.0,836.8 L944.0,836.6 L947.0,836.3 L950.0,836.0 L953.0,835.7 L956.0,835.4 L959.0,835.1 L962.0,834.8 L965.0,834.5 L968.0,834.2 L971.0,834.0 L974.0,833.7 L977.0,833.4 L980.0,833.1 L983.0,832.8 L986.0,832.6 L989.0,832.3 L992.0,832.0 L995.0,831.8 L998.0,831.5 L1001.0,831.2 L1004.0,830.9 L1007.0,830.7 L1010.0,830.4 L1013.0,830.2 L1016.0,829.9 L1019.0,829.6 L1022.0,829.4 L1025.0,829.1 L1028.0,828.9 L1031.0,828.6 L1034.0,828.3 L1037.0,828.1 L1040.0,827.8 L1043.0,827.6 L1046.0,827.3 L1049.0,827.1 L1052.0,826.8 L1055.0,826.6 L1058.0,826.3 L1061.0,826.1 L1064.0,825.9 L1067.0,825.6 L1070.0,825.4 L1073.0,825.1 L1076.0,824.9 L1079.0,824.6 L1082.0,824.4 L1085.0,824.2 L1088.0,823.9 L1091.0,823.7 L1094.0,823.5 L1097.0,823.2 L1100.0,823.0 L1103.0,822.8 L1106.0,822.5 L1109.0,822.3 L1112.0,822.1 L1115.0,821.9 L1118.0,821.6 L1121.0,821.4 L1124.0,821.2 L1127.0,821.0 L1130.0,820.8 L1133.0,820.5 L1136.0,820.3 L1139.0,820.1 L1142.0,819.9 L1145.0,819.7 L1148.0,819.5 L1151.0,819.2 L1154.0,819.0 L1157.0,818.8 L1160.0,818.6 L1163.0,818.4 L1166.0,818.2 L1169.0,818.0 L1172.0,817.8 L1175.0,817.6 L1178.0,817.4 L1181.0,817.2 L1184.0,817.0 L1187.0,816.8 L1190.0,816.6 L1193.0,816.4 L1196.0,816.2 L1199.0,816.0 L1202.0,815.8 L1205.0,815.6 L1208.0,815.4 L1211.0,815.2 L1214.0,815.0 L1217.0,814.8 L1220.0,814.6 L1223.0,814.4 L1226.0,814.2 L1229.0,814.0 L1232.0,813.9 L1235.0,813.7 L1238.0,813.5 L1241.0,813.3 L1244.0,813.1 L1247.0,812.9 L1250.0,812.7 L1253.0,812.6 L1256.0,812.4 L1259.0,812.2 L1262.0,812.0 L1265.0,811.9 L1268.0,811.7 L1271.0,811.5 L1274.0,811.3 L1277.0,811.2 L1280.0,811.0 L1283.0,810.8 L1286.0,810.6 L1289.0,810.5 L1292.0,810.3 L1295.0,810.1 L1298.0,810.0 L1301.0,809.8 L1304.0,809.6 L1307.0,809.5 L1310.0,809.3 L1313.0,809.2 L1316.0,809.0 L1319.0,808.8 L1322.0,808.7 L1325.0,808.5 L1328.0,808.4 L1331.0,808.2 L1334.0,808.0 L1337.0,807.9 L1340.0,807.7 L1343.0,807.6 L1346.0,807.4 L1349.0,807.3 L1352.0,807.1 L1355.0,807.0 L1358.0,806.8 L1361.0,806.7 L1364.0,806.5 L1367.0,806.4 L1370.0,806.2 L1373.0,806.1 L1376.0,805.9 L1379.0,805.8 L1382.0,805.7 L1385.0,805.5 L1388.0,805.4 L1391.0,805.2 L1394.0,805.1 L1397.0,804.9 L1400.0,804.8 L1403.0,804.7 L1406.0,804.5 L1409.0,804.4 L1412.0,804.3 L1415.0,804.1 L1418.0,804.0 L1421.0,803.9 L1424.0,803.7 L1427.0,803.6 L1430.0,803.5 L1433.0,803.3 L1436.0,803.2 L1439.0,803.1 L1442.0,803.0 L1445.0,802.8 L1448.0,802.7 L1451.0,802.6 L1454.0,802.5 L1457.0,802.3 L1460.0,802.2 L1463.0,802.1 L1466.0,802.0 L1469.0,801.8 L1472.0,801.7 L1475.0,801.6 L1478.0,801.5 L1481.0,801.4 L1484.0,801.3 L1487.0,801.1 L1490.0,801.0 L1493.0,800.9 L1496.0,800.8 L1499.0,800.7 L1502.0,800.6 L1505.0,800.5 L1508.0,800.4 L1511.0,800.2 L1514.0,800.1 L1517.0,800.0 L1520.0,799.9 L1523.0,799.8 L1526.0,799.7 L1529.0,799.6 L1532.0,799.5 L1535.0,799.4 L1538.0,799.3 L1541.0,799.2 L1544.0,799.1 L1547.0,799.0 L1550.0,798.9 L1553.0,798.8 L1556.0,798.7 L1559.0,798.6 L1562.0,798.5 L1565.0,798.4 L1568.0,798.3 L1571.0,798.2 L1574.0,798.1 L1577.0,798.0 L1580.0,797.9 L1583.0,797.8 L1586.0,797.7 L1589.0,797.6 L1592.0,797.5 L1595.0,797.4 L1598.0,797.3 L1601.0,797.2 L1604.0,797.2 L1607.0,797.1 L1610.0,797.0 L1613.0,796.9 L1616.0,796.8 L1619.0,796.7 L1622.0,796.6 L1625.0,796.5 L1628.0,796.5 L1631.0,796.4 L1634.0,796.3 L1637.0,796.2 L1640.0,796.1 L1643.0,796.0 L1646.0,796.0 L1649.0,795.9 L1652.0,795.8 L1655.0,795.7 L1658.0,795.6 L1661.0,795.6 L1664.0,795.5 L1667.0,795.4 L1670.0,795.3 L1673.0,795.3 L1676.0,795.2 L1679.0,795.1 L1682.0,795.0 L1685.0,795.0 L1688.0,794.9 L1691.0,794.8 L1694.0,794.7 L1697.0,794.7 L1700.0,794.6 L1703.0,794.5 L1706.0,794.5 L1709.0,794.4 L1712.0,794.3 L1715.0,794.2 L1718.0,794.2 L1721.0,794.1 L1724.0,794.0 L1727.0,794.0 L1730.0,793.9 L1733.0,793.8 L1736.0,793.8 L1739.0,793.7 L1742.0,793.7 L1745.0,793.6 L1748.0,793.5 L1751.0,793.5 L1754.0,793.4 L1757.0,793.3 L1760.0,793.3 L1763.0,793.2 L1766.0,793.2 L1769.0,793.1 L1772.0,793.0 L1775.0,793.0 L1778.0,792.9 L1781.0,792.9 L1784.0,792.8 L1787.0,792.8 L1790.0,792.7 L1793.0,792.6 L1796.0,792.6 L1799.0,792.5 L1802.0,792.5 L1805.0,792.4 L1808.0,792.4 L1811.0,792.3 L1814.0,792.3 L1817.0,792.2 L1820.0,792.2 L1823.0,792.1 L1826.0,792.1 L1829.0,792.0 L1832.0,792.0 L1835.0,791.9 L1838.0,791.9 L1841.0,791.8 L1844.0,791.8 L1847.0,791.7 L1850.0,791.7 L1853.0,791.6 L1856.0,791.6 L1859.0,791.5 L1862.0,791.5 L1865.0,791.4 L1868.0,791.4 L1871.0,791.3 L1874.0,791.3 L1877.0,791.3 L1880.0,791.2 L1883.0,791.2 L1886.0,791.1 L1889.0,791.1 L1892.0,791.0 L1895.0,791.0 L1898.0,791.0 L1901.0,790.9 L1904.0,790.9 L1907.0,790.8 L1910.0,790.8 L1913.0,790.8 L1916.0,790.7 L1919.0,790.7 L1922.0,790.6 L1925.0,790.6 L1928.0,790.6 L1931.0,790.5 L1934.0,790.5 L1937.0,790.4 L1940.0,790.4 L1943.0,790.4 L1946.0,790.3 L1949.0,790.3 L1952.0,790.3 L1955.0,790.2 L1958.0,790.2 L1961.0,790.2 L1964.0,790.1 L1967.0,790.1 L1970.0,790.1 L1973.0,790.0 L1976.0,790.0 L1977.0,790.0" fill="none" stroke="#5280a8" stroke-width="7" stroke-linejoin="round" stroke-dasharray="28.5 10.2"/>
<path d="M265.0,1139.0 L505.0,942.0 L508.0,941.7 L511.0,941.3 L514.0,941.0 L517.0,940.7 L520.0,940.3 L523.0,940.0 L526.0,939.7 L529.0,939.3 L532.0,939.0 L535.0,938.7 L538.0,938.4 L541.0,938.0 L544.0,937.7 L547.0,937.4 L550.0,937.1 L553.0,936.8 L556.0,936.5 L559.0,936.1 L562.0,935.8 L565.0,935.5 L568.0,935.2 L571.0,934.9 L574.0,934.6 L577.0,934.3 L580.0,934.0 L583.0,933.7 L586.0,933.4 L589.0,933.1 L592.0,932.8 L595.0,932.5 L598.0,932.2 L601.0,931.9 L604.0,931.6 L607.0,931.3 L610.0,931.0 L613.0,930.8 L616.0,930.5 L619.0,930.2 L622.0,929.9 L625.0,929.6 L628.0,929.3 L631.0,929.1 L634.0,928.8 L637.0,928.5 L640.0,928.2 L643.0,928.0 L646.0,927.7 L649.0,927.4 L652.0,927.2 L655.0,926.9 L658.0,926.6 L661.0,926.4 L664.0,926.1 L667.0,925.8 L670.0,925.6 L673.0,925.3 L676.0,925.1 L679.0,924.8 L682.0,924.5 L685.0,924.3 L688.0,924.0 L691.0,923.8 L694.0,923.5 L697.0,923.3 L700.0,923.0 L703.0,922.8 L706.0,922.6 L709.0,922.3 L712.0,922.1 L715.0,921.8 L718.0,921.6 L721.0,921.3 L724.0,921.1 L727.0,920.9 L730.0,920.6 L733.0,920.4 L736.0,920.2 L739.0,919.9 L742.0,919.7 L745.0,919.5 L748.0,919.3 L751.0,919.0 L754.0,918.8 L757.0,918.6 L760.0,918.4 L763.0,918.1 L766.0,917.9 L769.0,917.7 L772.0,917.5 L775.0,917.3 L778.0,917.1 L781.0,916.8 L784.0,916.6 L787.0,916.4 L790.0,916.2 L793.0,916.0 L796.0,915.8 L799.0,915.6 L802.0,915.4 L805.0,915.2 L808.0,915.0 L811.0,914.8 L814.0,914.6 L817.0,914.4 L820.0,914.2 L823.0,914.0 L826.0,913.8 L829.0,913.6 L832.0,913.4 L835.0,913.2 L838.0,913.0 L841.0,912.8 L844.0,912.6 L847.0,912.4 L850.0,912.3 L853.0,912.1 L856.0,911.9 L859.0,911.7 L862.0,911.5 L865.0,911.3 L868.0,911.2 L871.0,911.0 L874.0,910.8 L877.0,910.6 L880.0,910.5 L883.0,910.3 L886.0,910.1 L889.0,909.9 L892.0,909.8 L895.0,909.6 L898.0,909.4 L901.0,909.3 L904.0,909.1 L907.0,908.9 L910.0,908.8 L913.0,908.6 L916.0,908.4 L919.0,908.3 L922.0,908.1 L925.0,907.9 L928.0,907.8 L931.0,907.6 L934.0,907.5 L937.0,907.3 L940.0,907.2 L943.0,907.0 L946.0,906.9 L949.0,906.7 L952.0,906.6 L955.0,906.4 L958.0,906.3 L961.0,906.1 L964.0,906.0 L967.0,905.8 L970.0,905.7 L973.0,905.5 L976.0,905.4 L979.0,905.2 L982.0,905.1 L985.0,905.0 L988.0,904.8 L991.0,904.7 L994.0,904.5 L997.0,904.4 L1000.0,904.3 L1003.0,904.1 L1006.0,904.0 L1009.0,903.9 L1012.0,903.7 L1015.0,903.6 L1018.0,903.5 L1021.0,903.4 L1024.0,903.2 L1027.0,903.1 L1030.0,903.0 L1033.0,902.8 L1036.0,902.7 L1039.0,902.6 L1042.0,902.5 L1045.0,902.4 L1048.0,902.2 L1051.0,902.1 L1054.0,902.0 L1057.0,901.9 L1060.0,901.8 L1063.0,901.6 L1066.0,901.5 L1069.0,901.4 L1072.0,901.3 L1075.0,901.2 L1078.0,901.1 L1081.0,901.0 L1084.0,900.9 L1087.0,900.7 L1090.0,900.6 L1093.0,900.5 L1096.0,900.4 L1099.0,900.3 L1102.0,900.2 L1105.0,900.1 L1108.0,900.0 L1111.0,899.9 L1114.0,899.8 L1117.0,899.7 L1120.0,899.6 L1123.0,899.5 L1126.0,899.4 L1129.0,899.3 L1132.0,899.2 L1135.0,899.1 L1138.0,899.0 L1141.0,898.9 L1144.0,898.8 L1147.0,898.7 L1150.0,898.6 L1153.0,898.5 L1156.0,898.4 L1159.0,898.4 L1162.0,898.3 L1165.0,898.2 L1168.0,898.1 L1171.0,898.0 L1174.0,897.9 L1177.0,897.8 L1180.0,897.7 L1183.0,897.7 L1186.0,897.6 L1189.0,897.5 L1192.0,897.4 L1195.0,897.3 L1198.0,897.2 L1201.0,897.2 L1204.0,897.1 L1207.0,897.0 L1210.0,896.9 L1213.0,896.8 L1216.0,896.8 L1219.0,896.7 L1222.0,896.6 L1225.0,896.5 L1228.0,896.5 L1231.0,896.4 L1234.0,896.3 L1237.0,896.3 L1240.0,896.2 L1243.0,896.1 L1246.0,896.0 L1249.0,896.0 L1252.0,895.9 L1255.0,895.8 L1258.0,895.8 L1261.0,895.7 L1264.0,895.6 L1267.0,895.6 L1270.0,895.5 L1273.0,895.4 L1276.0,895.4 L1279.0,895.3 L1282.0,895.2 L1285.0,895.2 L1288.0,895.1 L1291.0,895.1 L1294.0,895.0 L1297.0,894.9 L1300.0,894.9 L1303.0,894.8 L1306.0,894.8 L1309.0,894.7 L1312.0,894.6 L1315.0,894.6 L1318.0,894.5 L1321.0,894.5 L1324.0,894.4 L1327.0,894.4 L1330.0,894.3 L1333.0,894.3 L1336.0,894.2 L1339.0,894.2 L1342.0,894.1 L1345.0,894.0 L1348.0,894.0 L1351.0,893.9 L1354.0,893.9 L1357.0,893.8 L1360.0,893.8 L1363.0,893.7 L1366.0,893.7 L1369.0,893.7 L1372.0,893.6 L1375.0,893.6 L1378.0,893.5 L1381.0,893.5 L1384.0,893.4 L1387.0,893.4 L1390.0,893.3 L1393.0,893.3 L1396.0,893.2 L1399.0,893.2 L1402.0,893.2 L1405.0,893.1 L1408.0,893.1 L1411.0,893.0 L1414.0,893.0 L1417.0,893.0 L1420.0,892.9 L1423.0,892.9 L1426.0,892.8 L1429.0,892.8 L1432.0,892.8 L1435.0,892.7 L1438.0,892.7 L1441.0,892.7 L1444.0,892.6 L1447.0,892.6 L1450.0,892.5 L1453.0,892.5 L1456.0,892.5 L1459.0,892.4 L1462.0,892.4 L1465.0,892.4 L1468.0,892.3 L1471.0,892.3 L1474.0,892.3 L1477.0,892.2 L1480.0,892.2 L1483.0,892.2 L1486.0,892.2 L1489.0,892.1 L1492.0,892.1 L1495.0,892.1 L1498.0,892.0 L1501.0,892.0 L1504.0,892.0 L1507.0,891.9 L1510.0,891.9 L1513.0,891.9 L1516.0,891.9 L1519.0,891.8 L1522.0,891.8 L1525.0,891.8 L1528.0,891.8 L1531.0,891.7 L1534.0,891.7 L1537.0,891.7 L1540.0,891.6 L1543.0,891.6 L1546.0,891.6 L1549.0,891.6 L1552.0,891.6 L1555.0,891.5 L1558.0,891.5 L1561.0,891.5 L1564.0,891.5 L1567.0,891.4 L1570.0,891.4 L1573.0,891.4 L1576.0,891.4 L1579.0,891.3 L1582.0,891.3 L1585.0,891.3 L1588.0,891.3 L1591.0,891.3 L1594.0,891.2 L1597.0,891.2 L1600.0,891.2 L1603.0,891.2 L1606.0,891.2 L1609.0,891.1 L1612.0,891.1 L1615.0,891.1 L1618.0,891.1 L1621.0,891.1 L1624.0,891.0 L1627.0,891.0 L1630.0,891.0 L1633.0,891.0 L1636.0,891.0 L1639.0,890.9 L1642.0,890.9 L1645.0,890.9 L1648.0,890.9 L1651.0,890.9 L1654.0,890.9 L1657.0,890.8 L1660.0,890.8 L1663.0,890.8 L1666.0,890.8 L1669.0,890.8 L1672.0,890.8 L1675.0,890.7 L1678.0,890.7 L1681.0,890.7 L1684.0,890.7 L1687.0,890.7 L1690.0,890.7 L1693.0,890.6 L1696.0,890.6 L1699.0,890.6 L1702.0,890.6 L1705.0,890.6 L1708.0,890.6 L1711.0,890.6 L1714.0,890.5 L1717.0,890.5 L1720.0,890.5 L1723.0,890.5 L1726.0,890.5 L1729.0,890.5 L1732.0,890.4 L1735.0,890.4 L1738.0,890.4 L1741.0,890.4 L1744.0,890.4 L1747.0,890.4 L1750.0,890.4 L1753.0,890.3 L1756.0,890.3 L1759.0,890.3 L1762.0,890.3 L1765.0,890.3 L1768.0,890.3 L1771.0,890.3 L1774.0,890.2 L1777.0,890.2 L1780.0,890.2 L1783.0,890.2 L1786.0,890.2 L1789.0,890.2 L1792.0,890.2 L1795.0,890.1 L1798.0,890.1 L1801.0,890.1 L1804.0,890.1 L1807.0,890.1 L1810.0,890.1 L1813.0,890.1 L1816.0,890.0 L1819.0,890.0 L1822.0,890.0 L1825.0,890.0 L1828.0,890.0 L1831.0,890.0 L1834.0,889.9 L1837.0,889.9 L1840.0,889.9 L1843.0,889.9 L1846.0,889.9 L1849.0,889.9 L1852.0,889.9 L1855.0,889.8 L1858.0,889.8 L1861.0,889.8 L1864.0,889.8 L1867.0,889.8 L1870.0,889.8 L1873.0,889.7 L1876.0,889.7 L1879.0,889.7 L1882.0,889.7 L1885.0,889.7 L1888.0,889.7 L1891.0,889.6 L1894.0,889.6 L1897.0,889.6 L1900.0,889.6 L1903.0,889.6 L1906.0,889.5 L1909.0,889.5 L1912.0,889.5 L1915.0,889.5 L1918.0,889.5 L1921.0,889.5 L1924.0,889.4 L1927.0,889.4 L1930.0,889.4 L1933.0,889.4 L1936.0,889.4 L1939.0,889.3 L1942.0,889.3 L1945.0,889.3 L1948.0,889.3 L1951.0,889.3 L1954.0,889.2 L1957.0,889.2 L1960.0,889.2 L1963.0,889.2 L1966.0,889.1 L1969.0,889.1 L1972.0,889.1 L1975.0,889.1 L1978.0,889.1 L1981.0,889.0 L1984.0,889.0" fill="none" stroke="#5280a8" stroke-width="7" stroke-linejoin="round" stroke-dasharray="28.5 10.2"/>
<path d="M265.0,1139.0 L520.0,1047.0 L523.0,1045.3 L526.0,1043.6 L529.0,1042.0 L532.0,1040.4 L535.0,1038.8 L538.0,1037.2 L541.0,1035.7 L544.0,1034.2 L547.0,1032.7 L550.0,1031.2 L553.0,1029.8 L556.0,1028.4 L559.0,1027.0 L562.0,1025.7 L565.0,1024.4 L568.0,1023.1 L571.0,1021.9 L574.0,1020.6 L577.0,1019.4 L580.0,1018.3 L583.0,1017.1 L586.0,1016.0 L589.0,1014.9 L592.0,1013.9 L595.0,1012.8 L598.0,1011.8 L601.0,1010.9 L604.0,1009.9 L607.0,1009.0 L610.0,1008.1 L613.0,1007.3 L616.0,1006.5 L619.0,1005.7 L622.0,1004.9 L625.0,1004.1 L628.0,1003.4 L631.0,1002.7 L634.0,1002.1 L637.0,1001.5 L640.0,1000.9 L643.0,1000.3 L646.0,999.8 L649.0,999.2 L652.0,998.7 L655.0,998.3 L658.0,997.8 L661.0,997.4 L664.0,997.0 L667.0,996.6 L670.0,996.3 L673.0,995.9 L676.0,995.6 L679.0,995.3 L682.0,995.0 L685.0,994.8 L688.0,994.5 L691.0,994.3 L694.0,994.1 L697.0,993.9 L700.0,993.7 L703.0,993.6 L706.0,993.4 L709.0,993.3 L712.0,993.1 L715.0,993.0 L718.0,992.9 L721.0,992.8 L724.0,992.7 L727.0,992.6 L730.0,992.5 L733.0,992.4 L736.0,992.4 L739.0,992.3 L742.0,992.2 L745.0,992.2 L748.0,992.1 L751.0,992.1 L754.0,992.0 L757.0,992.0 L760.0,991.9 L763.0,991.9 L766.0,991.8 L769.0,991.8 L772.0,991.7 L775.0,991.7 L778.0,991.6 L781.0,991.5 L784.0,991.5 L787.0,991.4 L790.0,991.3 L793.0,991.2 L796.0,991.1 L799.0,991.0 L802.0,990.9 L805.0,990.8 L808.0,990.7 L811.0,990.6 L814.0,990.5 L817.0,990.4 L820.0,990.2 L823.0,990.1 L826.0,990.0 L829.0,989.8 L832.0,989.7 L835.0,989.6 L838.0,989.4 L841.0,989.3 L844.0,989.1 L847.0,988.9 L850.0,988.8 L853.0,988.6 L856.0,988.5 L859.0,988.3 L862.0,988.1 L865.0,987.9 L868.0,987.8 L871.0,987.6 L874.0,987.4 L877.0,987.2 L880.0,987.0 L883.0,986.8 L886.0,986.6 L889.0,986.4 L892.0,986.3 L895.0,986.1 L898.0,985.9 L901.0,985.7 L904.0,985.5 L907.0,985.2 L910.0,985.0 L913.0,984.8 L916.0,984.6 L919.0,984.4 L922.0,984.2 L925.0,984.0 L928.0,983.8 L931.0,983.6 L934.0,983.4 L937.0,983.2 L940.0,982.9 L943.0,982.7 L946.0,982.5 L949.0,982.3 L952.0,982.1 L955.0,981.9 L958.0,981.6 L961.0,981.4 L964.0,981.2 L967.0,981.0 L970.0,980.8 L973.0,980.6 L976.0,980.4 L979.0,980.1 L982.0,979.9 L985.0,979.7 L988.0,979.5 L991.0,979.3 L994.0,979.1 L997.0,978.9 L1000.0,978.7 L1003.0,978.5 L1006.0,978.3 L1009.0,978.1 L1012.0,977.9 L1015.0,977.7 L1018.0,977.5 L1021.0,977.3 L1024.0,977.1 L1027.0,976.9 L1030.0,976.7 L1033.0,976.5 L1036.0,976.3 L1039.0,976.1 L1042.0,975.9 L1045.0,975.7 L1048.0,975.6 L1051.0,975.4 L1054.0,975.2 L1057.0,975.0 L1060.0,974.8 L1063.0,974.7 L1066.0,974.5 L1069.0,974.3 L1072.0,974.1 L1075.0,974.0 L1078.0,973.8 L1081.0,973.6 L1084.0,973.5 L1087.0,973.3 L1090.0,973.1 L1093.0,973.0 L1096.0,972.8 L1099.0,972.7 L1102.0,972.5 L1105.0,972.3 L1108.0,972.2 L1111.0,972.0 L1114.0,971.9 L1117.0,971.7 L1120.0,971.6 L1123.0,971.4 L1126.0,971.3 L1129.0,971.1 L1132.0,971.0 L1135.0,970.8 L1138.0,970.7 L1141.0,970.5 L1144.0,970.4 L1147.0,970.3 L1150.0,970.1 L1153.0,970.0 L1156.0,969.9 L1159.0,969.7 L1162.0,969.6 L1165.0,969.4 L1168.0,969.3 L1171.0,969.2 L1174.0,969.1 L1177.0,968.9 L1180.0,968.8 L1183.0,968.7 L1186.0,968.5 L1189.0,968.4 L1192.0,968.3 L1195.0,968.2 L1198.0,968.1 L1201.0,967.9 L1204.0,967.8 L1207.0,967.7 L1210.0,967.6 L1213.0,967.5 L1216.0,967.4 L1219.0,967.2 L1222.0,967.1 L1225.0,967.0 L1228.0,966.9 L1231.0,966.8 L1234.0,966.7 L1237.0,966.6 L1240.0,966.5 L1243.0,966.4 L1246.0,966.3 L1249.0,966.2 L1252.0,966.1 L1255.0,966.0 L1258.0,965.9 L1261.0,965.8 L1264.0,965.7 L1267.0,965.6 L1270.0,965.5 L1273.0,965.4 L1276.0,965.3 L1279.0,965.2 L1282.0,965.1 L1285.0,965.0 L1288.0,964.9 L1291.0,964.8 L1294.0,964.7 L1297.0,964.6 L1300.0,964.5 L1303.0,964.4 L1306.0,964.4 L1309.0,964.3 L1312.0,964.2 L1315.0,964.1 L1318.0,964.0 L1321.0,963.9 L1324.0,963.9 L1327.0,963.8 L1330.0,963.7 L1333.0,963.6 L1336.0,963.5 L1339.0,963.5 L1342.0,963.4 L1345.0,963.3 L1348.0,963.2 L1351.0,963.1 L1354.0,963.1 L1357.0,963.0 L1360.0,962.9 L1363.0,962.9 L1366.0,962.8 L1369.0,962.7 L1372.0,962.6 L1375.0,962.6 L1378.0,962.5 L1381.0,962.4 L1384.0,962.4 L1387.0,962.3 L1390.0,962.2 L1393.0,962.2 L1396.0,962.1 L1399.0,962.0 L1402.0,962.0 L1405.0,961.9 L1408.0,961.8 L1411.0,961.8 L1414.0,961.7 L1417.0,961.7 L1420.0,961.6 L1423.0,961.5 L1426.0,961.5 L1429.0,961.4 L1432.0,961.4 L1435.0,961.3 L1438.0,961.2 L1441.0,961.2 L1444.0,961.1 L1447.0,961.1 L1450.0,961.0 L1453.0,961.0 L1456.0,960.9 L1459.0,960.9 L1462.0,960.8 L1465.0,960.7 L1468.0,960.7 L1471.0,960.6 L1474.0,960.6 L1477.0,960.5 L1480.0,960.5 L1483.0,960.4 L1486.0,960.4 L1489.0,960.3 L1492.0,960.3 L1495.0,960.2 L1498.0,960.2 L1501.0,960.1 L1504.0,960.1 L1507.0,960.0 L1510.0,960.0 L1513.0,959.9 L1516.0,959.9 L1519.0,959.9 L1522.0,959.8 L1525.0,959.8 L1528.0,959.7 L1531.0,959.7 L1534.0,959.6 L1537.0,959.6 L1540.0,959.5 L1543.0,959.5 L1546.0,959.4 L1549.0,959.4 L1552.0,959.4 L1555.0,959.3 L1558.0,959.3 L1561.0,959.2 L1564.0,959.2 L1567.0,959.1 L1570.0,959.1 L1573.0,959.1 L1576.0,959.0 L1579.0,959.0 L1582.0,958.9 L1585.0,958.9 L1588.0,958.9 L1591.0,958.8 L1594.0,958.8 L1597.0,958.7 L1600.0,958.7 L1603.0,958.7 L1606.0,958.6 L1609.0,958.6 L1612.0,958.5 L1615.0,958.5 L1618.0,958.4 L1621.0,958.4 L1624.0,958.4 L1627.0,958.3 L1630.0,958.3 L1633.0,958.3 L1636.0,958.2 L1639.0,958.2 L1642.0,958.1 L1645.0,958.1 L1648.0,958.1 L1651.0,958.0 L1654.0,958.0 L1657.0,957.9 L1660.0,957.9 L1663.0,957.9 L1666.0,957.8 L1669.0,957.8 L1672.0,957.7 L1675.0,957.7 L1678.0,957.7 L1681.0,957.6 L1684.0,957.6 L1687.0,957.5 L1690.0,957.5 L1693.0,957.5 L1696.0,957.4 L1699.0,957.4 L1702.0,957.3 L1705.0,957.3 L1708.0,957.3 L1711.0,957.2 L1714.0,957.2 L1717.0,957.1 L1720.0,957.1 L1723.0,957.1 L1726.0,957.0 L1729.0,957.0 L1732.0,956.9 L1735.0,956.9 L1738.0,956.8 L1741.0,956.8 L1744.0,956.8 L1747.0,956.7 L1750.0,956.7 L1753.0,956.6 L1756.0,956.6 L1759.0,956.5 L1762.0,956.5 L1765.0,956.5 L1768.0,956.4 L1771.0,956.4 L1774.0,956.3 L1777.0,956.3 L1780.0,956.2 L1783.0,956.2 L1786.0,956.1 L1789.0,956.1 L1792.0,956.0 L1795.0,956.0 L1798.0,955.9 L1801.0,955.9 L1804.0,955.9 L1807.0,955.8 L1810.0,955.8 L1813.0,955.7 L1816.0,955.7 L1819.0,955.6 L1822.0,955.6 L1825.0,955.5 L1828.0,955.5 L1831.0,955.4 L1834.0,955.3 L1837.0,955.3 L1840.0,955.2 L1843.0,955.2 L1846.0,955.1 L1849.0,955.1 L1852.0,955.0 L1855.0,955.0 L1858.0,954.9 L1861.0,954.9 L1864.0,954.8 L1867.0,954.7 L1870.0,954.7 L1873.0,954.6 L1876.0,954.6 L1879.0,954.5 L1882.0,954.5 L1885.0,954.4 L1888.0,954.3 L1891.0,954.3 L1894.0,954.2 L1897.0,954.1 L1900.0,954.1 L1903.0,954.0 L1906.0,954.0 L1909.0,953.9 L1912.0,953.8 L1915.0,953.8 L1918.0,953.7 L1921.0,953.6 L1924.0,953.6 L1927.0,953.5 L1930.0,953.4 L1933.0,953.3 L1936.0,953.3 L1939.0,953.2 L1942.0,953.1 L1945.0,953.1 L1948.0,953.0 L1951.0,952.9 L1954.0,952.8 L1957.0,952.8 L1960.0,952.7 L1963.0,952.6 L1966.0,952.5 L1969.0,952.5 L1972.0,952.4 L1975.0,952.3 L1978.0,952.2 L1981.0,952.1 L1984.0,952.1 L1987.0,952.0" fill="none" stroke="#5280a8" stroke-width="7" stroke-linejoin="round" stroke-dasharray="28.5 10.2"/>
<path d="M265.0,1139.0 L500.0,1045.0 L503.0,1043.9 L506.0,1042.8 L509.0,1041.6 L512.0,1040.5 L515.0,1039.4 L518.0,1038.2 L521.0,1037.1 L524.0,1035.9 L527.0,1034.8 L530.0,1033.6 L533.0,1032.5 L536.0,1031.3 L539.0,1030.2 L542.0,1029.0 L545.0,1027.8 L548.0,1026.7 L551.0,1025.5 L554.0,1024.3 L557.0,1023.2 L560.0,1022.0 L563.0,1020.8 L566.0,1019.7 L569.0,1018.5 L572.0,1017.3 L575.0,1016.1 L578.0,1015.0 L581.0,1013.8 L584.0,1012.6 L587.0,1011.4 L590.0,1010.3 L593.0,1009.1 L596.0,1007.9 L599.0,1006.8 L602.0,1005.6 L605.0,1004.4 L608.0,1003.3 L611.0,1002.1 L614.0,1000.9 L617.0,999.8 L620.0,998.6 L623.0,997.4 L626.0,996.3 L629.0,995.1 L632.0,994.0 L635.0,992.8 L638.0,991.7 L641.0,990.5 L644.0,989.4 L647.0,988.3 L650.0,987.1 L653.0,986.0 L656.0,984.9 L659.0,983.8 L662.0,982.6 L665.0,981.5 L668.0,980.4 L671.0,979.3 L674.0,978.2 L677.0,977.1 L680.0,976.0 L683.0,975.0 L686.0,973.9 L689.0,972.8 L692.0,971.7 L695.0,970.7 L698.0,969.6 L701.0,968.6 L704.0,967.5 L707.0,966.5 L710.0,965.5 L713.0,964.4 L716.0,963.4 L719.0,962.4 L722.0,961.4 L725.0,960.4 L728.0,959.4 L731.0,958.4 L734.0,957.5 L737.0,956.5 L740.0,955.5 L743.0,954.6 L746.0,953.6 L749.0,952.7 L752.0,951.7 L755.0,950.8 L758.0,949.9 L761.0,949.0 L764.0,948.1 L767.0,947.2 L770.0,946.3 L773.0,945.4 L776.0,944.5 L779.0,943.7 L782.0,942.8 L785.0,942.0 L788.0,941.2 L791.0,940.3 L794.0,939.5 L797.0,938.7 L800.0,937.9 L803.0,937.1 L806.0,936.3 L809.0,935.6 L812.0,934.8 L815.0,934.0 L818.0,933.3 L821.0,932.6 L824.0,931.8 L827.0,931.1 L830.0,930.4 L833.0,929.7 L836.0,929.0 L839.0,928.4 L842.0,927.7 L845.0,927.0 L848.0,926.4 L851.0,925.8 L854.0,925.1 L857.0,924.5 L860.0,923.9 L863.0,923.3 L866.0,922.7 L869.0,922.2 L872.0,921.6 L875.0,921.0 L878.0,920.5 L881.0,919.9 L884.0,919.4 L887.0,918.9 L890.0,918.4 L893.0,917.8 L896.0,917.3 L899.0,916.9 L902.0,916.4 L905.0,915.9 L908.0,915.4 L911.0,915.0 L914.0,914.5 L917.0,914.0 L920.0,913.6 L923.0,913.2 L926.0,912.7 L929.0,912.3 L932.0,911.9 L935.0,911.5 L938.0,911.1 L941.0,910.7 L944.0,910.3 L947.0,909.9 L950.0,909.6 L953.0,909.2 L956.0,908.8 L959.0,908.5 L962.0,908.1 L965.0,907.8 L968.0,907.4 L971.0,907.1 L974.0,906.8 L977.0,906.4 L980.0,906.1 L983.0,905.8 L986.0,905.5 L989.0,905.2 L992.0,904.9 L995.0,904.6 L998.0,904.3 L1001.0,904.0 L1004.0,903.7 L1007.0,903.4 L1010.0,903.2 L1013.0,902.9 L1016.0,902.6 L1019.0,902.3 L1022.0,902.1 L1025.0,901.8 L1028.0,901.6 L1031.0,901.3 L1034.0,901.1 L1037.0,900.8 L1040.0,900.6 L1043.0,900.3 L1046.0,900.1 L1049.0,899.9 L1052.0,899.6 L1055.0,899.4 L1058.0,899.2 L1061.0,898.9 L1064.0,898.7 L1067.0,898.5 L1070.0,898.3 L1073.0,898.0 L1076.0,897.8 L1079.0,897.6 L1082.0,897.4 L1085.0,897.2 L1088.0,897.0 L1091.0,896.7 L1094.0,896.5 L1097.0,896.3 L1100.0,896.1 L1103.0,895.9 L1106.0,895.7 L1109.0,895.5 L1112.0,895.3 L1115.0,895.0 L1118.0,894.8 L1121.0,894.6 L1124.0,894.4 L1127.0,894.2 L1130.0,894.0 L1133.0,893.8 L1136.0,893.6 L1139.0,893.4 L1142.0,893.2 L1145.0,893.0 L1148.0,892.8 L1151.0,892.6 L1154.0,892.4 L1157.0,892.2 L1160.0,892.0 L1163.0,891.8 L1166.0,891.6 L1169.0,891.4 L1172.0,891.2 L1175.0,891.0 L1178.0,890.8 L1181.0,890.6 L1184.0,890.4 L1187.0,890.2 L1190.0,890.0 L1193.0,889.8 L1196.0,889.6 L1199.0,889.4 L1202.0,889.2 L1205.0,889.0 L1208.0,888.8 L1211.0,888.6 L1214.0,888.4 L1217.0,888.2 L1220.0,888.0 L1223.0,887.9 L1226.0,887.7 L1229.0,887.5 L1232.0,887.3 L1235.0,887.1 L1238.0,886.9 L1241.0,886.7 L1244.0,886.5 L1247.0,886.3 L1250.0,886.2 L1253.0,886.0 L1256.0,885.8 L1259.0,885.6 L1262.0,885.4 L1265.0,885.2 L1268.0,885.1 L1271.0,884.9 L1274.0,884.7 L1277.0,884.5 L1280.0,884.3 L1283.0,884.2 L1286.0,884.0 L1289.0,883.8 L1292.0,883.6 L1295.0,883.4 L1298.0,883.3 L1301.0,883.1 L1304.0,882.9 L1307.0,882.7 L1310.0,882.6 L1313.0,882.4 L1316.0,882.2 L1319.0,882.0 L1322.0,881.9 L1325.0,881.7 L1328.0,881.5 L1331.0,881.3 L1334.0,881.2 L1337.0,881.0 L1340.0,880.8 L1343.0,880.7 L1346.0,880.5 L1349.0,880.3 L1352.0,880.2 L1355.0,880.0 L1358.0,879.8 L1361.0,879.7 L1364.0,879.5 L1367.0,879.3 L1370.0,879.2 L1373.0,879.0 L1376.0,878.8 L1379.0,878.7 L1382.0,878.5 L1385.0,878.4 L1388.0,878.2 L1391.0,878.0 L1394.0,877.9 L1397.0,877.7 L1400.0,877.6 L1403.0,877.4 L1406.0,877.2 L1409.0,877.1 L1412.0,876.9 L1415.0,876.8 L1418.0,876.6 L1421.0,876.5 L1424.0,876.3 L1427.0,876.2 L1430.0,876.0 L1433.0,875.9 L1436.0,875.7 L1439.0,875.5 L1442.0,875.4 L1445.0,875.2 L1448.0,875.1 L1451.0,875.0 L1454.0,874.8 L1457.0,874.7 L1460.0,874.5 L1463.0,874.4 L1466.0,874.2 L1469.0,874.1 L1472.0,873.9 L1475.0,873.8 L1478.0,873.6 L1481.0,873.5 L1484.0,873.4 L1487.0,873.2 L1490.0,873.1 L1493.0,872.9 L1496.0,872.8 L1499.0,872.7 L1502.0,872.5 L1505.0,872.4 L1508.0,872.2 L1511.0,872.1 L1514.0,872.0 L1517.0,871.8 L1520.0,871.7 L1523.0,871.6 L1526.0,871.4 L1529.0,871.3 L1532.0,871.2 L1535.0,871.0 L1538.0,870.9 L1541.0,870.8 L1544.0,870.6 L1547.0,870.5 L1550.0,870.4 L1553.0,870.3 L1556.0,870.1 L1559.0,870.0 L1562.0,869.9 L1565.0,869.7 L1568.0,869.6 L1571.0,869.5 L1574.0,869.4 L1577.0,869.2 L1580.0,869.1 L1583.0,869.0 L1586.0,868.9 L1589.0,868.8 L1592.0,868.6 L1595.0,868.5 L1598.0,868.4 L1601.0,868.3 L1604.0,868.2 L1607.0,868.0 L1610.0,867.9 L1613.0,867.8 L1616.0,867.7 L1619.0,867.6 L1622.0,867.5 L1625.0,867.4 L1628.0,867.2 L1631.0,867.1 L1634.0,867.0 L1637.0,866.9 L1640.0,866.8 L1643.0,866.7 L1646.0,866.6 L1649.0,866.5 L1652.0,866.4 L1655.0,866.3 L1658.0,866.1 L1661.0,866.0 L1664.0,865.9 L1667.0,865.8 L1670.0,865.7 L1673.0,865.6 L1676.0,865.5 L1679.0,865.4 L1682.0,865.3 L1685.0,865.2 L1688.0,865.1 L1691.0,865.0 L1694.0,864.9 L1697.0,864.8 L1700.0,864.7 L1703.0,864.6 L1706.0,864.5 L1709.0,864.4 L1712.0,864.3 L1715.0,864.2 L1718.0,864.2 L1721.0,864.1 L1724.0,864.0 L1727.0,863.9 L1730.0,863.8 L1733.0,863.7 L1736.0,863.6 L1739.0,863.5 L1742.0,863.4" fill="none" stroke="#5280a8" stroke-width="7" stroke-linejoin="round" stroke-dasharray="28.5 10.2"/>
<g stroke-linecap="butt"><line x1="335.0" y1="1069.0" x2="387.0" y2="1121.0" stroke="#3a3a3a" stroke-width="3.2"/><line x1="387.0" y1="1069.0" x2="335.0" y2="1121.0" stroke="#3a3a3a" stroke-width="3.2"/><line x1="361.0" y1="1069.0" x2="361.0" y2="1121.0" stroke="#000" stroke-width="4.8"/></g>
<g stroke-linecap="butt"><line x1="536.8" y1="982.5" x2="588.8" y2="1034.5" stroke="#3a3a3a" stroke-width="3.2"/><line x1="588.8" y1="982.5" x2="536.8" y2="1034.5" stroke="#3a3a3a" stroke-width="3.2"/><line x1="562.8" y1="982.5" x2="562.8" y2="1034.5" stroke="#000" stroke-width="4.8"/></g>
<g stroke-linecap="butt"><line x1="551.3" y1="998.0" x2="603.3" y2="1050.0" stroke="#3a3a3a" stroke-width="3.2"/><line x1="603.3" y1="998.0" x2="551.3" y2="1050.0" stroke="#3a3a3a" stroke-width="3.2"/><line x1="577.3" y1="998.0" x2="577.3" y2="1050.0" stroke="#000" stroke-width="4.8"/></g>
<g stroke-linecap="butt"><line x1="777.0" y1="935.0" x2="829.0" y2="987.0" stroke="#3a3a3a" stroke-width="3.2"/><line x1="829.0" y1="935.0" x2="777.0" y2="987.0" stroke="#3a3a3a" stroke-width="3.2"/><line x1="803.0" y1="935.0" x2="803.0" y2="987.0" stroke="#000" stroke-width="4.8"/></g>
<g stroke-linecap="butt"><line x1="1007.5" y1="882.2" x2="1059.5" y2="934.2" stroke="#3a3a3a" stroke-width="3.2"/><line x1="1059.5" y1="882.2" x2="1007.5" y2="934.2" stroke="#3a3a3a" stroke-width="3.2"/><line x1="1033.5" y1="882.2" x2="1033.5" y2="934.2" stroke="#000" stroke-width="4.8"/></g>
<g stroke-linecap="butt"><line x1="1079.6" y1="877.7" x2="1131.6" y2="929.7" stroke="#3a3a3a" stroke-width="3.2"/><line x1="1131.6" y1="877.7" x2="1079.6" y2="929.7" stroke="#3a3a3a" stroke-width="3.2"/><line x1="1105.6" y1="877.7" x2="1105.6" y2="929.7" stroke="#000" stroke-width="4.8"/></g>
<g stroke-linecap="butt"><line x1="1248.0" y1="858.5" x2="1300.0" y2="910.5" stroke="#3a3a3a" stroke-width="3.2"/><line x1="1300.0" y1="858.5" x2="1248.0" y2="910.5" stroke="#3a3a3a" stroke-width="3.2"/><line x1="1274.0" y1="858.5" x2="1274.0" y2="910.5" stroke="#000" stroke-width="4.8"/></g>
<g stroke-linecap="butt"><line x1="1339.3" y1="819.3" x2="1391.3" y2="871.3" stroke="#3a3a3a" stroke-width="3.2"/><line x1="1391.3" y1="819.3" x2="1339.3" y2="871.3" stroke="#3a3a3a" stroke-width="3.2"/><line x1="1365.3" y1="819.3" x2="1365.3" y2="871.3" stroke="#000" stroke-width="4.8"/></g>
<g stroke-linecap="butt"><line x1="1608.5" y1="805.0" x2="1660.5" y2="857.0" stroke="#3a3a3a" stroke-width="3.2"/><line x1="1660.5" y1="805.0" x2="1608.5" y2="857.0" stroke="#3a3a3a" stroke-width="3.2"/><line x1="1634.5" y1="805.0" x2="1634.5" y2="857.0" stroke="#000" stroke-width="4.8"/></g>
<g stroke-linecap="butt"><line x1="1627.5" y1="841.5" x2="1679.5" y2="893.5" stroke="#3a3a3a" stroke-width="3.2"/><line x1="1679.5" y1="841.5" x2="1627.5" y2="893.5" stroke="#3a3a3a" stroke-width="3.2"/><line x1="1653.5" y1="841.5" x2="1653.5" y2="893.5" stroke="#000" stroke-width="4.8"/></g>
<g stroke-linecap="butt"><line x1="1877.3" y1="752.0" x2="1929.3" y2="804.0" stroke="#3a3a3a" stroke-width="3.2"/><line x1="1929.3" y1="752.0" x2="1877.3" y2="804.0" stroke="#3a3a3a" stroke-width="3.2"/><line x1="1903.3" y1="752.0" x2="1903.3" y2="804.0" stroke="#000" stroke-width="4.8"/></g>
<g stroke-linecap="butt"><line x1="2079.0" y1="728.2" x2="2131.0" y2="780.2" stroke="#3a3a3a" stroke-width="3.2"/><line x1="2131.0" y1="728.2" x2="2079.0" y2="780.2" stroke="#3a3a3a" stroke-width="3.2"/><line x1="2105.0" y1="728.2" x2="2105.0" y2="780.2" stroke="#000" stroke-width="4.8"/></g>
<polygon points="367.0,1012.5 392.5,1038.0 367.0,1063.5 341.5,1038.0" fill="#d20000" stroke="#b0101a" stroke-width="1.5"/>
<polygon points="529.0,1017.0 554.5,1042.5 529.0,1068.0 503.5,1042.5" fill="#d20000" stroke="#b0101a" stroke-width="1.5"/>
<polygon points="361.0,839.0 387.0,891.0 335.0,891.0" fill="#ff0000" stroke="#d81e1e" stroke-width="1.5" stroke-linejoin="miter"/>
<polygon points="361.0,1035.5 387.0,1087.5 335.0,1087.5" fill="#ff0000" stroke="#d81e1e" stroke-width="1.5" stroke-linejoin="miter"/>
<polygon points="529.0,993.0 555.0,1045.0 503.0,1045.0" fill="#ff0000" stroke="#d81e1e" stroke-width="1.5" stroke-linejoin="miter"/>
<polygon points="558.0,622.7 584.0,674.7 532.0,674.7" fill="#ff0000" stroke="#d81e1e" stroke-width="1.5" stroke-linejoin="miter"/>
<polygon points="716.0,901.0 742.0,953.0 690.0,953.0" fill="#ff0000" stroke="#d81e1e" stroke-width="1.5" stroke-linejoin="miter"/>
<polygon points="759.8,483.0 785.8,535.0 733.8,535.0" fill="#ff0000" stroke="#d81e1e" stroke-width="1.5" stroke-linejoin="miter"/>
<polygon points="952.0,440.0 978.0,492.0 926.0,492.0" fill="#ff0000" stroke="#d81e1e" stroke-width="1.5" stroke-linejoin="miter"/>
<polygon points="980.5,890.5 1006.5,942.5 954.5,942.5" fill="#ff0000" stroke="#d81e1e" stroke-width="1.5" stroke-linejoin="miter"/>
<polygon points="1158.4,372.2 1184.4,424.2 1132.4,424.2" fill="#ff0000" stroke="#d81e1e" stroke-width="1.5" stroke-linejoin="miter"/>
<polygon points="1294.0,882.0 1320.0,934.0 1268.0,934.0" fill="#ff0000" stroke="#d81e1e" stroke-width="1.5" stroke-linejoin="miter"/>
<polygon points="1461.0,295.4 1487.0,347.4 1435.0,347.4" fill="#ff0000" stroke="#d81e1e" stroke-width="1.5" stroke-linejoin="miter"/>
<polygon points="1850.4,867.4 1876.4,919.4 1824.4,919.4" fill="#ff0000" stroke="#d81e1e" stroke-width="1.5" stroke-linejoin="miter"/>
<polygon points="1937.2,242.5 1963.2,294.5 1911.2,294.5" fill="#ff0000" stroke="#d81e1e" stroke-width="1.5" stroke-linejoin="miter"/>
<g stroke-linecap="butt"><line x1="709.4" y1="936.7" x2="761.4" y2="988.7" stroke="#3a3a3a" stroke-width="3.2"/><line x1="761.4" y1="936.7" x2="709.4" y2="988.7" stroke="#3a3a3a" stroke-width="3.2"/><line x1="735.4" y1="936.7" x2="735.4" y2="988.7" stroke="#000" stroke-width="4.8"/></g>
<polygon points="577.0,829.8 602.5,855.3 577.0,880.8 551.5,855.3" fill="#d20000" stroke="#b0101a" stroke-width="1.5"/>
<polygon points="803.0,704.8 828.5,730.3 803.0,755.8 777.5,730.3" fill="#d20000" stroke="#b0101a" stroke-width="1.5"/>
<polygon points="778.8,969.2 804.3,994.7 778.8,1020.2 753.3,994.7" fill="#d20000" stroke="#b0101a" stroke-width="1.5"/>
<polygon points="1018.7,632.9 1044.2,658.4 1018.7,683.9 993.2,658.4" fill="#d20000" stroke="#b0101a" stroke-width="1.5"/>
<polygon points="1048.0,949.9 1073.5,975.4 1048.0,1000.9 1022.5,975.4" fill="#d20000" stroke="#b0101a" stroke-width="1.5"/>
<polygon points="1240.2,565.1 1265.7,590.6 1240.2,616.1 1214.7,590.6" fill="#d20000" stroke="#b0101a" stroke-width="1.5"/>
<polygon points="1317.5,945.3 1343.0,970.8 1317.5,996.3 1292.0,970.8" fill="#d20000" stroke="#b0101a" stroke-width="1.5"/>
<polygon points="1466.0,531.5 1491.5,557.0 1466.0,582.5 1440.5,557.0" fill="#d20000" stroke="#b0101a" stroke-width="1.5"/>
<polygon points="1759.4,488.4 1784.9,513.9 1759.4,539.4 1733.9,513.9" fill="#d20000" stroke="#b0101a" stroke-width="1.5"/>
<polygon points="1841.5,930.5 1867.0,956.0 1841.5,981.5 1816.0,956.0" fill="#d20000" stroke="#b0101a" stroke-width="1.5"/>
<rect x="327.0" y="999.0" width="44.0" height="44.0" fill="#0070c0" stroke="#3b84a6" stroke-width="4"/>
<rect x="336.6" y="811.7" width="44.0" height="44.0" fill="#0070c0" stroke="#3b84a6" stroke-width="4"/>
<rect x="500.0" y="903.0" width="44.0" height="44.0" fill="#0070c0" stroke="#3b84a6" stroke-width="4"/>
<rect x="538.3" y="537.4" width="44.0" height="44.0" fill="#0070c0" stroke="#3b84a6" stroke-width="4"/>
<rect x="668.0" y="840.0" width="44.0" height="44.0" fill="#0070c0" stroke="#3b84a6" stroke-width="4"/>
<rect x="740.2" y="383.5" width="44.0" height="44.0" fill="#0070c0" stroke="#3b84a6" stroke-width="4"/>
<rect x="937.0" y="826.0" width="44.0" height="44.0" fill="#0070c0" stroke="#3b84a6" stroke-width="4"/>
<rect x="956.7" y="330.7" width="44.0" height="44.0" fill="#0070c0" stroke="#3b84a6" stroke-width="4"/>
<rect x="1225.5" y="802.0" width="44.0" height="44.0" fill="#0070c0" stroke="#3b84a6" stroke-width="4"/>
<rect x="1245.0" y="268.0" width="44.0" height="44.0" fill="#0070c0" stroke="#3b84a6" stroke-width="4"/>
<rect x="1490.0" y="783.0" width="44.0" height="44.0" fill="#0070c0" stroke="#3b84a6" stroke-width="4"/>
<rect x="1528.0" y="230.0" width="44.0" height="44.0" fill="#0070c0" stroke="#3b84a6" stroke-width="4"/>
<rect x="1773.0" y="768.4" width="44.0" height="44.0" fill="#0070c0" stroke="#3b84a6" stroke-width="4"/>
<polygon points="315.4,55.2 334.4,87.9 296.4,87.9" fill="#ff0000" stroke="#d81e1e" stroke-width="1.2"/>
<rect x="298.4" y="148.4" width="34" height="29.3" fill="#0070c0" stroke="#3b84a6" stroke-width="4"/>
<polygon points="315.4,237.3 334.4,256.5 315.4,275.7 296.4,256.5" fill="#d20000" stroke="#b0101a" stroke-width="1.2"/>
<g><line x1="297" y1="334" x2="334" y2="366" stroke="#303030" stroke-width="3.6"/><line x1="334" y1="334" x2="297" y2="366" stroke="#303030" stroke-width="3.6"/><line x1="315.4" y1="334" x2="315.4" y2="366" stroke="#000" stroke-width="4.8"/></g>
<g font-family="'Liberation Sans', Arial, sans-serif" font-size="58" fill="#000">
<text x="342" y="87.9">35 MPa/40 °C</text>
<text x="342" y="184.4">35 MPa/55 °C</text>
<text x="342" y="275.7">20 MPa/40 °C</text>
<text x="342" y="367.0">20 MPa/55 °C</text>
</g>
<text font-family="'Liberation Sans', Arial, sans-serif" font-weight="bold" font-size="62" fill="#000" x="1144" y="1318.7">q, g·g<tspan font-size="46" dy="-19">-1</tspan></text>
<text font-family="'Liberation Sans', Arial, sans-serif" font-weight="bold" font-size="60" fill="#000" transform="translate(89.4,719.5) rotate(-90)">e, g.kg<tspan font-size="45" dy="-18.5">-1</tspan></text></svg>
</body></html>
